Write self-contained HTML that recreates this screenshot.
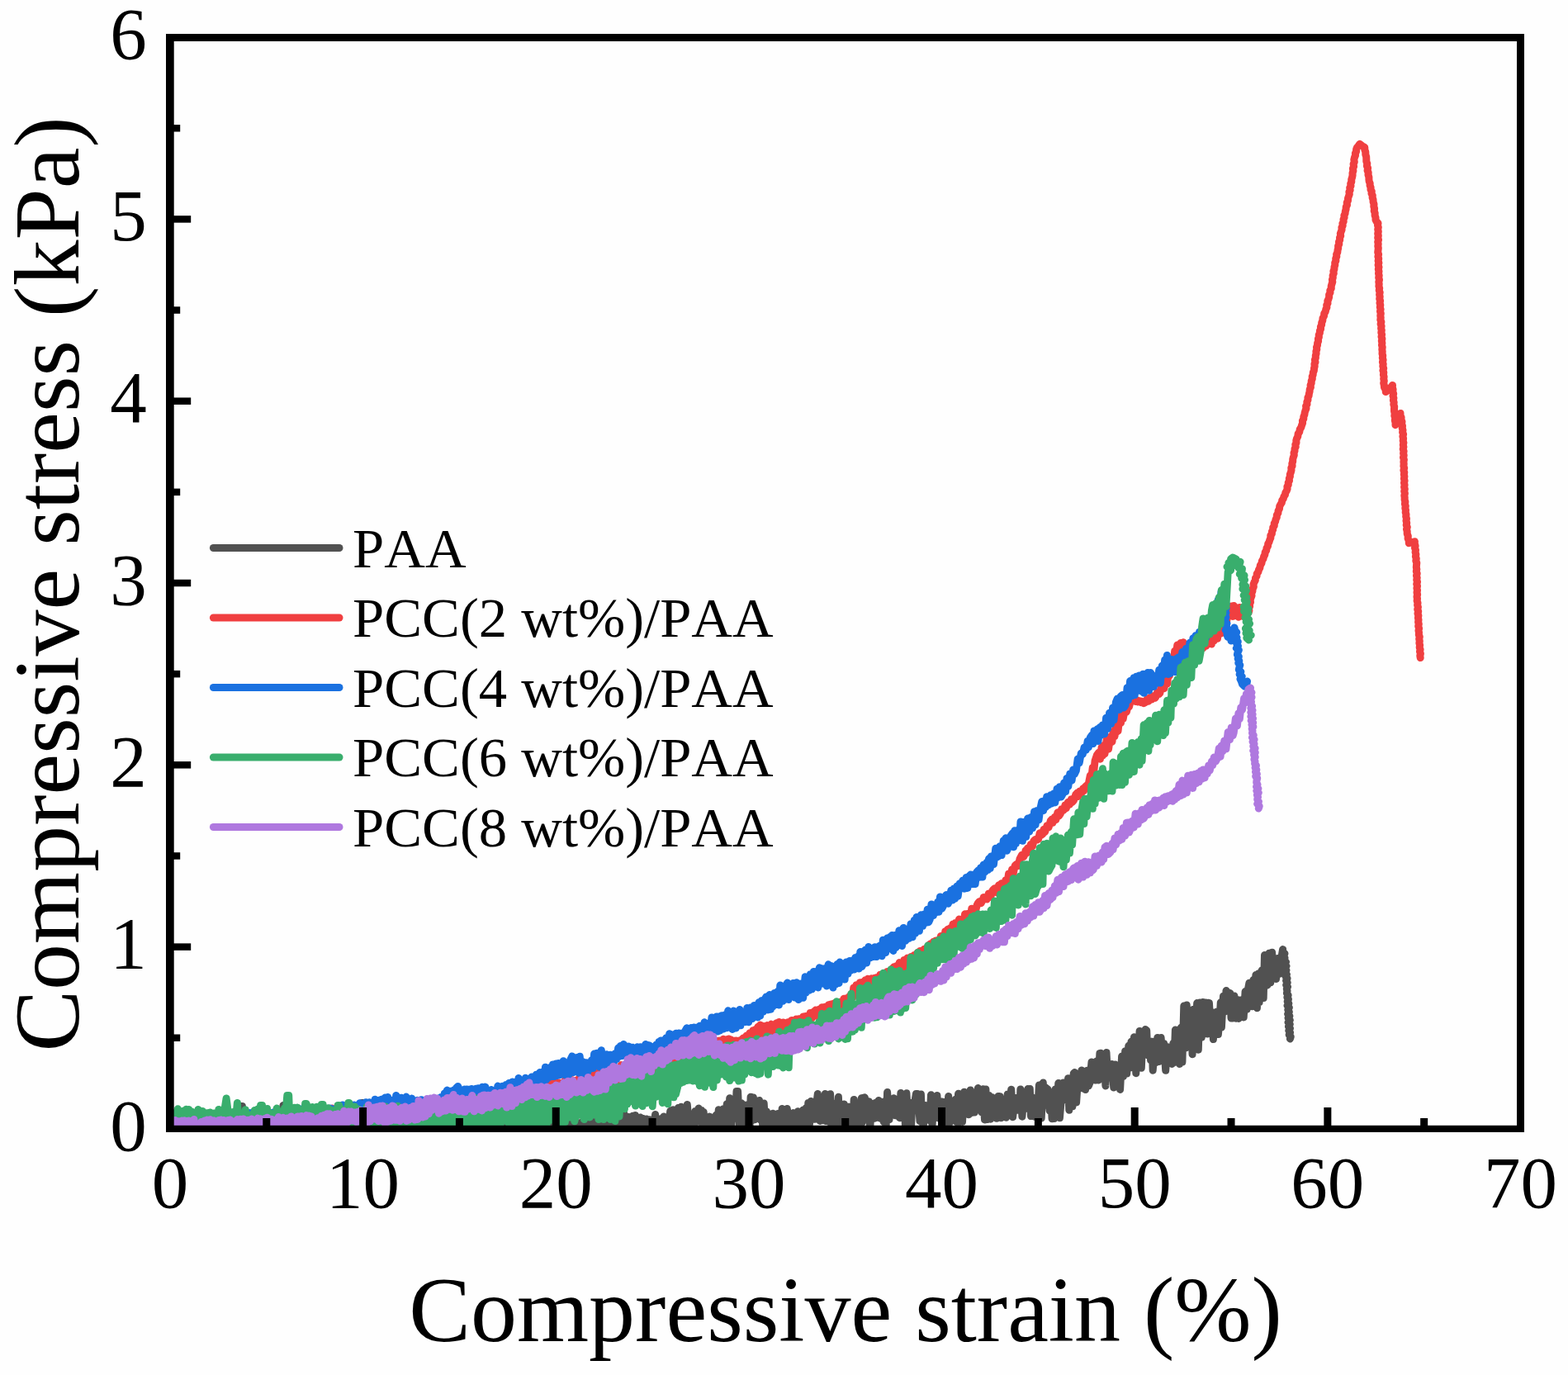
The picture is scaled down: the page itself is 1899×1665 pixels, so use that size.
<!DOCTYPE html>
<html><head><meta charset="utf-8"><title>Compressive stress-strain</title>
<style>html,body{margin:0;padding:0;background:#fefefe;}body{width:1899px;height:1665px;overflow:hidden}svg{display:block}</style>
</head><body>
<svg width="1899" height="1665" viewBox="0 0 1899 1665" font-family="'Liberation Serif', 'Times New Roman', serif">
<rect width="1899" height="1665" fill="#fefefe"/>
<defs><clipPath id="pc"><rect x="201" y="41" width="1645" height="1330"/></clipPath></defs>
<g clip-path="url(#pc)" fill="none" stroke-width="9.0" stroke-linejoin="round" stroke-linecap="round">
<path stroke="#515151" d="M210.0,1359.3 211.3,1363.9 212.8,1362.9 214.7,1357.6 216.2,1367.5 217.3,1358.3 219.1,1362.4 220.3,1358.5 222.5,1362.8 224.0,1366.5 226.0,1358.5 227.6,1351.5 229.5,1351.5 231.8,1358.4 233.1,1362.5 234.5,1355.3 235.5,1367.2 237.2,1363.8 238.7,1358.8 240.1,1348.5 241.3,1348.5 243.2,1363.0 245.0,1357.8 247.4,1363.2 249.6,1358.3 250.8,1354.1 252.6,1364.1 253.6,1358.1 255.1,1358.1 257.1,1364.2 259.5,1358.2 260.9,1363.4 261.9,1354.9 263.0,1364.2 264.2,1359.0 266.1,1363.7 268.0,1354.0 270.4,1364.0 272.7,1358.2 273.9,1353.9 275.8,1364.1 277.7,1358.6 279.5,1363.1 280.8,1363.2 282.1,1358.2 284.0,1363.3 285.5,1358.0 287.1,1367.5 288.8,1353.8 290.4,1359.1 292.0,1339.5 293.4,1339.5 295.7,1363.5 297.7,1358.7 298.9,1363.1 300.7,1359.1 302.8,1364.1 304.8,1358.3 306.4,1363.7 308.2,1363.6 309.4,1358.0 311.5,1363.1 313.9,1359.1 315.8,1363.7 316.9,1354.3 318.6,1367.5 320.5,1357.3 322.3,1364.1 324.1,1358.4 325.7,1363.3 327.1,1359.2 329.3,1359.4 331.1,1364.8 333.0,1358.0 334.8,1367.5 335.9,1363.2 337.2,1359.5 338.6,1363.7 339.8,1363.7 341.2,1357.4 343.0,1338.5 344.9,1357.3 346.2,1363.8 347.6,1358.3 349.4,1367.5 350.8,1357.3 352.3,1363.7 353.7,1353.9 355.1,1367.5 356.4,1367.5 357.8,1357.9 359.2,1357.9 360.4,1363.6 362.0,1357.1 363.4,1366.8 364.9,1358.1 366.4,1363.5 367.7,1367.5 369.5,1357.8 371.8,1363.6 373.9,1362.2 375.0,1357.1 376.9,1367.5 378.3,1358.5 380.2,1367.0 381.8,1358.1 383.2,1367.5 385.3,1353.5 386.7,1363.6 388.5,1367.5 390.2,1357.5 392.5,1363.8 394.6,1357.8 395.7,1362.7 397.1,1363.2 399.0,1353.4 401.4,1366.7 403.8,1356.9 405.3,1367.5 407.0,1357.2 409.0,1361.6 410.1,1357.5 411.8,1367.5 412.9,1352.9 415.2,1362.4 417.1,1357.3 418.2,1363.9 420.1,1358.3 422.3,1367.5 423.6,1352.6 425.3,1362.2 427.0,1352.6 428.5,1362.0 430.0,1356.6 431.2,1362.0 433.3,1362.5 434.8,1357.1 436.2,1363.8 437.3,1352.7 438.6,1335.5 440.1,1335.5 441.7,1362.3 444.0,1357.9 445.3,1367.0 447.1,1357.8 449.1,1357.6 451.0,1356.3 452.9,1362.4 454.4,1352.5 455.6,1362.4 456.9,1356.8 458.3,1367.5 459.6,1352.7 460.6,1361.1 462.8,1352.5 464.5,1356.2 465.6,1362.0 467.4,1362.6 469.5,1352.5 471.7,1356.7 473.6,1356.8 475.8,1366.8 477.6,1356.3 478.8,1363.0 480.9,1357.0 482.8,1356.6 484.3,1363.2 485.5,1356.5 487.4,1367.1 488.7,1357.4 490.8,1367.5 492.6,1357.3 493.7,1362.3 496.0,1352.5 497.0,1367.5 498.4,1356.2 500.0,1366.8 501.0,1355.6 502.6,1361.8 503.8,1355.9 505.6,1362.5 507.7,1357.4 508.9,1363.0 510.6,1358.0 512.1,1362.7 513.5,1362.4 515.5,1356.7 516.6,1362.5 518.4,1363.2 520.7,1358.0 522.7,1364.2 524.2,1357.9 526.3,1362.7 528.5,1357.5 530.6,1352.5 532.9,1367.5 534.1,1366.6 535.6,1363.1 536.9,1363.6 538.3,1352.5 540.6,1362.3 541.7,1352.5 543.0,1367.5 545.4,1361.4 547.1,1352.5 549.3,1367.5 551.2,1352.5 552.5,1363.6 553.7,1355.9 555.3,1367.5 557.3,1362.4 558.5,1353.5 560.1,1363.4 562.4,1357.5 563.7,1363.0 565.9,1361.6 567.6,1362.7 568.7,1358.0 569.8,1367.2 572.0,1356.6 574.2,1363.2 576.1,1357.8 577.9,1362.3 579.7,1357.7 581.5,1364.0 583.0,1352.5 584.4,1367.5 586.7,1356.0 588.0,1362.2 589.6,1352.7 590.7,1363.3 592.8,1356.7 594.0,1363.8 595.6,1357.8 597.5,1363.6 599.3,1356.8 601.6,1356.9 603.8,1364.3 605.9,1357.8 607.9,1362.1 610.2,1357.0 611.5,1363.1 612.9,1353.1 614.3,1361.9 616.7,1362.4 618.7,1352.5 621.0,1362.5 622.6,1356.1 623.9,1367.5 625.2,1363.6 626.3,1356.3 627.3,1356.0 628.7,1361.4 630.0,1355.5 631.6,1363.4 633.7,1367.5 635.1,1353.3 636.9,1361.9 638.1,1352.5 639.2,1356.3 641.6,1356.9 643.0,1363.9 644.6,1357.2 646.0,1367.0 647.2,1367.5 648.4,1363.5 650.3,1359.0 651.8,1363.9 653.5,1356.8 655.3,1353.0 656.8,1362.8 659.0,1356.9 661.3,1367.5 663.2,1357.4 664.8,1367.5 665.9,1353.8 667.1,1363.0 669.4,1356.9 670.7,1362.5 673.0,1357.9 674.3,1366.7 675.9,1353.7 677.6,1362.9 679.3,1358.5 681.6,1363.2 683.9,1354.0 685.5,1364.0 687.7,1358.3 688.9,1367.5 691.0,1359.0 692.3,1367.1 694.0,1357.8 695.8,1363.1 697.7,1367.5 699.5,1363.3 700.9,1359.7 702.8,1363.1 704.6,1358.8 706.9,1366.9 708.6,1363.2 709.7,1362.5 711.1,1354.9 713.4,1367.2 714.9,1354.2 717.2,1362.9 719.2,1361.9 720.7,1358.4 722.9,1367.0 725.0,1353.2 727.1,1354.1 728.5,1357.9 730.0,1367.4 731.4,1353.1 733.0,1363.8 734.2,1352.8 736.1,1367.5 737.3,1359.0 739.2,1367.5 741.0,1347.5 742.6,1347.5 743.7,1355.9 745.1,1362.7 746.6,1356.3 747.7,1366.8 749.7,1354.6 751.7,1356.0 753.7,1356.2 754.8,1362.2 755.9,1348.8 758.0,1367.5 759.7,1361.1 761.1,1352.5 762.1,1360.3 764.2,1361.8 766.0,1351.3 767.2,1367.5 769.4,1350.4 771.4,1361.2 773.7,1361.5 775.6,1352.9 777.5,1360.7 779.0,1354.4 780.9,1362.6 782.9,1354.9 785.0,1361.9 786.8,1355.8 788.4,1356.6 789.9,1356.4 792.1,1363.9 793.6,1349.5 794.6,1360.6 796.8,1354.6 799.2,1360.4 801.3,1354.3 802.8,1362.8 803.9,1352.0 806.0,1367.5 808.0,1354.8 809.6,1361.5 811.8,1345.2 813.1,1344.7 815.4,1343.8 817.6,1367.5 818.8,1351.1 820.3,1363.3 821.3,1341.6 823.7,1359.6 824.8,1340.3 826.4,1359.6 828.0,1348.6 830.1,1362.8 832.3,1337.5 834.3,1361.6 835.5,1349.3 836.5,1367.5 838.9,1360.5 840.4,1367.5 841.9,1345.4 843.0,1359.1 844.4,1346.6 846.1,1342.0 848.5,1358.9 849.6,1344.6 851.1,1361.1 852.2,1346.8 853.2,1361.8 855.3,1353.3 856.6,1355.5 857.7,1367.5 859.4,1352.1 861.4,1359.9 863.3,1352.9 865.2,1361.4 867.3,1350.1 868.7,1361.4 870.3,1343.8 871.4,1355.7 873.6,1356.2 876.0,1342.7 877.2,1367.5 878.7,1352.7 880.3,1336.7 882.5,1367.5 883.7,1329.8 885.5,1367.5 887.4,1334.7 889.4,1334.5 890.7,1354.3 892.0,1321.5 893.6,1321.5 895.6,1367.5 897.9,1335.8 900.0,1337.8 902.2,1367.5 904.3,1338.1 905.5,1354.0 907.0,1341.8 908.0,1367.5 909.1,1328.2 910.8,1356.8 912.4,1328.9 914.0,1355.8 916.3,1335.9 917.8,1338.2 919.5,1332.4 920.9,1356.1 922.4,1342.4 924.0,1367.5 925.2,1336.1 927.0,1367.5 928.4,1346.1 929.8,1359.0 931.8,1349.0 933.9,1350.9 934.9,1359.1 936.1,1348.3 937.8,1361.1 939.9,1360.7 942.0,1348.5 943.0,1358.6 944.4,1350.3 945.7,1360.2 947.2,1342.5 948.5,1367.5 950.7,1348.0 952.0,1361.8 953.2,1342.5 954.8,1350.0 956.8,1348.2 958.5,1361.1 960.8,1347.6 962.8,1367.5 964.4,1359.5 966.2,1345.8 967.2,1359.7 968.5,1347.5 970.4,1356.2 972.7,1344.0 974.2,1361.3 976.3,1341.6 977.7,1367.5 978.8,1335.4 980.5,1361.1 982.0,1333.5 983.8,1355.6 985.7,1337.3 986.8,1355.3 988.4,1339.7 990.3,1324.5 991.6,1334.6 993.1,1357.4 994.6,1338.2 997.0,1356.7 999.3,1324.5 1000.6,1357.6 1002.4,1341.7 1003.7,1358.4 1005.6,1324.7 1007.4,1367.5 1009.2,1336.3 1010.3,1356.7 1011.4,1337.3 1013.3,1360.7 1015.4,1328.3 1017.2,1367.5 1018.6,1342.9 1020.6,1354.5 1022.2,1337.0 1023.5,1359.4 1025.7,1340.0 1026.9,1362.3 1028.3,1340.3 1030.7,1344.1 1032.9,1361.4 1034.2,1331.4 1035.2,1358.7 1036.9,1346.0 1038.2,1361.5 1039.6,1345.4 1042.0,1367.5 1043.3,1329.7 1044.4,1359.1 1046.2,1329.1 1047.3,1328.8 1049.3,1339.2 1050.5,1353.9 1052.3,1333.7 1053.7,1367.5 1055.3,1339.8 1056.7,1337.1 1058.6,1354.4 1059.9,1335.6 1061.8,1353.4 1064.1,1332.4 1065.7,1354.2 1068.1,1334.4 1070.3,1358.5 1071.3,1333.8 1073.0,1367.5 1074.6,1322.5 1077.0,1355.7 1078.5,1332.0 1080.3,1348.8 1082.4,1329.7 1084.1,1350.8 1086.0,1332.4 1087.8,1332.3 1089.5,1353.7 1090.9,1323.4 1092.9,1352.7 1095.2,1336.2 1096.6,1366.3 1097.9,1323.8 1099.9,1354.8 1101.5,1335.1 1103.4,1365.9 1105.0,1335.8 1107.2,1338.5 1109.4,1324.5 1111.1,1324.5 1112.7,1340.0 1114.0,1357.6 1115.4,1324.9 1116.5,1354.4 1118.2,1364.3 1120.4,1338.4 1122.5,1354.8 1124.1,1338.7 1126.1,1357.1 1127.5,1325.8 1129.0,1362.6 1131.0,1337.2 1132.6,1350.0 1134.9,1326.4 1136.8,1354.1 1138.5,1352.9 1140.5,1333.9 1142.8,1348.5 1143.9,1360.4 1145.2,1334.3 1147.0,1349.8 1148.7,1327.4 1150.3,1359.5 1152.5,1348.1 1154.0,1335.0 1155.2,1353.3 1157.2,1331.2 1158.7,1358.9 1160.6,1324.3 1162.5,1358.7 1164.1,1335.1 1165.5,1358.5 1167.7,1322.2 1170.1,1347.5 1172.0,1327.3 1173.2,1349.8 1175.2,1319.9 1176.6,1347.5 1179.0,1330.9 1180.3,1347.1 1182.4,1327.7 1184.5,1317.5 1186.8,1328.3 1189.0,1347.0 1190.5,1318.8 1192.5,1356.0 1193.9,1318.9 1194.9,1342.9 1196.2,1355.6 1197.8,1326.5 1199.5,1355.2 1201.5,1328.7 1203.4,1345.9 1205.6,1331.6 1206.9,1354.3 1208.9,1327.4 1210.1,1346.1 1211.1,1327.8 1212.3,1353.7 1214.7,1345.2 1216.4,1341.1 1218.5,1353.3 1220.2,1324.9 1222.3,1342.3 1224.7,1319.2 1226.6,1352.8 1227.7,1343.7 1229.7,1329.4 1231.9,1344.2 1233.4,1331.1 1234.9,1344.3 1235.9,1318.9 1237.9,1352.2 1239.9,1328.4 1241.8,1342.5 1243.6,1339.7 1244.8,1318.6 1246.2,1341.5 1247.3,1318.6 1248.5,1351.6 1250.0,1328.7 1251.1,1341.1 1253.1,1352.2 1254.9,1341.2 1256.8,1344.1 1258.4,1313.9 1259.6,1323.2 1261.2,1354.0 1263.3,1311.1 1264.6,1338.3 1266.9,1317.3 1269.1,1319.2 1271.1,1345.0 1272.5,1324.3 1274.1,1354.8 1275.3,1322.8 1276.6,1354.5 1278.1,1318.9 1280.1,1342.8 1281.8,1311.6 1283.4,1353.8 1285.8,1325.4 1287.8,1310.9 1290.1,1315.0 1292.3,1332.6 1293.6,1305.7 1294.8,1344.2 1296.8,1307.3 1298.9,1339.8 1300.2,1299.9 1301.6,1298.6 1303.6,1334.9 1305.7,1304.8 1307.6,1316.9 1309.9,1296.0 1311.1,1318.0 1312.6,1300.3 1314.5,1319.5 1316.6,1296.2 1318.4,1314.9 1319.7,1311.8 1322.0,1285.9 1323.6,1307.8 1324.9,1306.5 1326.4,1308.1 1327.9,1285.1 1330.3,1308.1 1331.9,1275.4 1333.4,1275.2 1335.7,1301.5 1337.4,1282.6 1338.9,1314.9 1340.0,1274.5 1341.6,1305.1 1343.2,1289.0 1344.3,1305.1 1346.5,1288.4 1348.8,1317.1 1350.5,1289.0 1352.5,1309.9 1354.7,1292.6 1356.6,1319.4 1358.6,1279.0 1360.4,1303.5 1362.7,1272.7 1364.7,1300.1 1366.8,1266.3 1368.5,1293.0 1370.0,1261.3 1371.2,1275.9 1373.5,1255.8 1375.8,1299.7 1376.9,1267.1 1378.0,1287.0 1380.1,1248.4 1382.3,1293.2 1384.0,1254.4 1386.0,1275.3 1387.1,1246.5 1388.7,1247.6 1389.9,1277.8 1392.1,1260.7 1393.6,1283.9 1395.1,1261.2 1396.2,1296.2 1398.5,1269.7 1399.8,1286.8 1401.8,1256.4 1403.8,1285.4 1406.1,1256.5 1408.1,1282.1 1409.6,1263.4 1411.7,1296.3 1413.8,1267.8 1415.4,1286.7 1417.5,1269.4 1419.1,1288.4 1420.9,1263.1 1422.0,1286.5 1423.4,1247.0 1425.1,1278.4 1427.1,1254.6 1428.5,1288.4 1430.3,1244.2 1431.9,1286.0 1433.8,1218.1 1435.7,1269.1 1437.2,1216.9 1439.5,1264.5 1440.7,1259.0 1442.0,1227.4 1444.1,1276.7 1445.2,1222.3 1447.4,1248.9 1449.7,1214.6 1451.3,1271.2 1453.1,1214.0 1455.3,1256.2 1456.7,1213.6 1458.5,1245.6 1459.9,1213.9 1462.1,1252.1 1463.3,1214.3 1464.4,1214.4 1466.6,1249.8 1468.3,1225.7 1469.4,1258.6 1471.1,1226.3 1472.5,1251.6 1473.9,1224.9 1475.4,1252.6 1477.2,1233.6 1478.3,1213.8 1479.4,1244.1 1481.5,1206.2 1483.4,1225.0 1485.0,1199.6 1486.8,1207.0 1487.9,1201.9 1489.9,1202.7 1491.0,1232.9 1492.0,1206.7 1493.1,1233.0 1494.9,1206.0 1497.1,1233.3 1498.3,1210.5 1500.0,1233.4 1502.2,1211.0 1504.5,1224.1 1506.2,1231.9 1508.1,1200.6 1510.1,1222.3 1511.6,1197.4 1512.9,1190.2 1514.1,1191.8 1515.3,1192.1 1516.5,1218.8 1517.9,1186.6 1519.4,1215.0 1520.9,1180.5 1522.4,1220.7 1523.8,1179.1 1525.2,1213.5 1526.6,1178.0 1528.3,1174.9 1530.2,1208.6 1531.5,1156.5 1533.8,1192.2 1535.1,1192.9 1537.0,1154.2 1538.8,1189.7 1540.6,1153.2 1542.4,1184.5 1543.9,1166.5 1545.5,1185.5 1547.3,1160.5 1549.7,1179.3 1551.4,1162.3 1553.6,1149.6 1553.4,1152.4 1555.9,1154.6 1554.6,1157.6 1556.0,1160.0 1555.1,1162.6 1557.4,1164.9 1555.6,1167.6 1557.9,1169.9 1555.9,1172.6 1557.9,1174.9 1556.4,1177.6 1558.4,1179.9 1557.1,1182.5 1559.0,1184.9 1557.6,1187.5 1559.2,1189.9 1557.7,1192.6 1559.5,1194.9 1558.3,1197.5 1559.0,1200.0 1558.4,1202.6 1560.1,1205.0 1558.9,1207.6 1560.4,1210.0 1559.2,1212.6 1560.8,1215.1 1559.1,1217.7 1561.3,1220.1 1559.8,1222.7 1561.3,1225.2 1559.7,1227.8 1561.8,1230.2 1560.1,1232.8 1562.2,1235.2 1560.1,1237.9 1562.2,1240.3 1560.5,1242.9 1562.4,1245.3 1560.8,1248.0 1562.5,1250.4 1561.2,1253.0 1563.2,1255.4 1562.4,1258.0"/>
<path stroke="#f03f40" d="M210.0,1353.5 212.1,1363.3 214.0,1362.0 215.2,1354.1 216.7,1363.1 218.3,1363.4 220.1,1354.9 222.4,1361.9 223.6,1352.9 225.5,1363.5 227.1,1352.9 228.7,1363.4 230.0,1353.9 232.0,1363.2 233.3,1353.1 234.9,1363.8 236.0,1355.4 238.4,1362.8 240.0,1353.3 241.7,1364.0 243.7,1352.7 245.3,1352.5 247.5,1353.3 248.5,1363.4 250.7,1354.0 252.4,1362.0 254.5,1352.5 256.8,1362.9 259.1,1351.6 260.4,1351.6 262.4,1362.5 263.5,1352.3 264.8,1362.6 265.9,1352.6 267.4,1360.8 268.4,1352.4 270.6,1361.4 272.0,1353.3 274.1,1363.4 275.9,1352.4 277.1,1363.4 278.6,1352.0 280.0,1362.2 281.9,1352.6 283.3,1362.7 285.1,1353.6 287.4,1361.3 289.6,1352.5 291.0,1359.9 292.6,1350.3 294.3,1362.0 295.7,1351.2 297.2,1351.9 299.5,1361.8 300.6,1361.5 301.8,1350.7 303.7,1360.6 304.8,1350.7 306.2,1360.7 308.3,1362.2 310.6,1350.0 312.1,1361.7 313.4,1351.1 315.6,1361.4 317.5,1349.5 319.2,1362.3 320.7,1351.6 322.2,1360.5 323.6,1349.4 325.7,1362.1 327.3,1349.6 328.6,1360.4 330.8,1347.4 332.9,1350.8 335.1,1348.3 337.4,1350.2 338.7,1359.0 340.9,1350.1 343.0,1347.0 344.6,1360.4 346.1,1349.7 347.8,1357.5 349.7,1348.3 350.9,1347.0 352.6,1358.8 354.9,1346.6 356.6,1358.2 358.1,1346.1 360.4,1358.0 362.7,1347.2 365.0,1355.7 366.1,1346.8 368.3,1355.1 369.6,1347.3 371.1,1356.9 373.3,1345.6 374.5,1353.7 375.7,1343.6 377.1,1356.0 378.4,1344.3 379.8,1355.1 381.9,1344.7 383.7,1355.5 385.0,1345.1 387.0,1354.6 389.3,1347.2 391.1,1355.4 392.4,1345.5 394.1,1355.6 396.1,1353.3 397.4,1343.6 399.2,1352.3 401.1,1352.3 402.4,1342.0 403.7,1344.0 405.7,1352.1 407.5,1344.0 409.1,1353.6 410.7,1344.2 412.8,1350.9 415.0,1350.9 416.6,1343.5 418.6,1341.6 419.7,1352.0 421.9,1342.2 422.9,1351.0 425.3,1351.1 427.7,1350.5 429.5,1342.0 431.7,1350.8 433.7,1340.7 434.8,1348.3 436.8,1339.6 439.1,1347.8 441.1,1339.6 442.5,1340.3 444.1,1349.4 446.3,1340.7 448.4,1347.5 449.7,1347.7 451.8,1338.9 453.3,1348.6 454.3,1340.4 456.6,1346.3 458.4,1338.4 460.4,1347.6 461.7,1340.0 463.4,1339.4 465.7,1340.0 466.9,1348.3 469.3,1346.1 471.1,1338.3 473.1,1346.2 475.1,1340.0 477.1,1345.8 478.4,1346.7 480.3,1338.6 481.6,1338.4 482.8,1345.7 484.2,1346.1 486.5,1337.5 488.8,1345.4 490.5,1338.6 492.3,1346.2 493.6,1337.6 495.0,1345.1 496.9,1338.1 498.3,1346.7 500.4,1337.6 502.5,1344.2 504.1,1336.1 505.7,1337.5 507.0,1336.3 508.3,1343.4 510.4,1334.9 511.8,1345.0 512.9,1335.7 515.0,1344.4 517.1,1333.7 519.3,1342.0 521.3,1343.5 522.5,1335.3 524.2,1342.5 525.8,1343.0 527.5,1333.9 529.5,1332.8 531.5,1342.3 533.4,1343.2 535.7,1331.5 537.9,1340.4 539.9,1341.0 541.5,1331.4 543.7,1340.6 546.0,1332.0 548.0,1340.6 549.1,1330.1 551.0,1329.4 552.7,1339.3 554.0,1329.4 555.6,1338.8 557.7,1326.9 559.6,1337.8 561.2,1340.9 563.1,1326.6 565.2,1337.8 566.8,1325.5 569.0,1326.8 570.7,1327.9 571.9,1338.5 574.1,1324.3 576.2,1336.7 578.2,1327.0 580.3,1338.1 582.4,1325.1 583.5,1334.8 584.9,1325.8 586.9,1335.3 588.0,1334.3 590.0,1322.0 591.4,1333.6 593.7,1335.8 595.4,1323.5 597.8,1334.5 599.2,1321.5 601.5,1332.7 603.0,1322.4 604.1,1332.9 605.8,1320.8 607.4,1321.5 608.9,1334.0 610.1,1323.0 612.3,1334.1 613.6,1319.9 615.2,1320.1 616.8,1332.8 617.9,1319.6 619.8,1331.8 621.1,1320.9 622.6,1331.4 624.4,1318.5 626.0,1332.2 627.7,1318.7 630.1,1332.4 631.7,1319.3 634.1,1329.1 636.2,1319.8 638.1,1329.5 639.3,1318.1 640.9,1329.7 642.9,1317.6 644.8,1331.7 646.0,1318.7 647.6,1328.1 649.3,1317.3 650.3,1330.7 652.0,1316.2 654.3,1329.3 655.5,1315.0 657.0,1327.3 658.4,1312.3 660.1,1325.8 662.1,1313.3 664.0,1325.9 665.2,1312.3 667.2,1324.9 669.1,1312.3 671.4,1326.5 673.3,1311.1 674.4,1310.7 676.4,1323.3 677.9,1311.1 679.0,1326.1 681.0,1312.0 682.8,1323.5 684.4,1307.7 686.2,1324.3 687.8,1306.4 689.9,1323.8 692.3,1307.5 693.8,1321.5 695.8,1324.1 698.0,1308.2 699.5,1323.6 701.8,1304.4 703.7,1305.6 705.1,1319.2 706.3,1304.7 707.4,1321.5 708.9,1303.4 710.4,1319.5 712.3,1300.8 714.1,1315.1 716.0,1299.3 717.9,1314.7 719.8,1299.4 722.1,1316.4 723.8,1298.2 724.9,1314.7 726.2,1299.9 727.5,1298.4 729.5,1314.4 730.9,1315.0 733.3,1295.5 735.3,1313.0 737.5,1296.8 739.1,1307.9 740.9,1292.9 742.7,1308.0 744.9,1293.2 746.3,1309.9 748.1,1293.3 750.0,1305.5 752.3,1289.6 754.3,1306.1 756.4,1304.0 758.5,1305.1 760.1,1288.8 762.1,1304.2 763.9,1287.1 765.4,1302.7 767.1,1301.9 769.5,1287.4 771.5,1303.0 773.2,1288.6 775.4,1300.2 776.8,1285.3 778.1,1284.4 780.3,1300.9 782.6,1301.7 784.8,1281.6 786.3,1299.2 788.5,1281.2 790.2,1294.5 792.6,1283.1 794.8,1298.0 796.9,1280.2 798.1,1280.3 799.5,1296.6 800.8,1275.5 802.3,1295.2 803.6,1277.1 805.3,1275.5 807.0,1291.8 808.8,1295.1 810.1,1276.6 812.5,1291.8 814.2,1275.3 815.9,1293.3 817.2,1272.3 818.5,1290.4 820.7,1273.7 822.7,1288.1 824.9,1271.6 826.0,1289.7 827.2,1269.4 829.3,1290.4 831.4,1272.4 832.7,1284.8 834.7,1270.1 835.8,1268.2 837.4,1285.9 838.8,1267.4 841.1,1286.4 842.2,1267.5 844.5,1282.4 846.2,1265.3 847.3,1283.8 849.7,1266.5 850.8,1284.1 852.4,1265.2 853.5,1281.6 855.5,1262.3 856.7,1263.1 858.0,1279.0 860.1,1264.7 861.5,1264.1 863.8,1273.8 865.3,1262.6 867.3,1275.2 868.3,1272.7 870.0,1260.2 871.0,1274.7 872.5,1260.0 873.9,1271.2 875.9,1258.3 877.6,1269.1 879.5,1258.8 880.6,1266.6 882.4,1257.9 883.7,1266.6 884.8,1258.8 886.8,1266.2 888.5,1260.2 889.7,1265.5 891.7,1260.0 893.3,1260.4 894.6,1263.9 896.8,1259.4 898.4,1262.1 899.8,1257.1 901.8,1260.5 904.1,1254.1 905.9,1258.9 907.9,1250.8 909.0,1258.8 910.2,1256.9 911.9,1247.8 913.8,1256.6 915.3,1246.3 916.6,1254.2 918.0,1243.2 919.1,1254.1 920.8,1241.1 922.7,1242.3 924.6,1242.5 926.0,1252.9 927.6,1243.6 928.9,1241.6 930.3,1250.7 932.0,1250.9 934.0,1240.1 936.0,1250.5 938.3,1249.5 939.3,1239.6 940.4,1238.8 942.5,1246.0 943.6,1237.4 945.9,1246.4 947.1,1239.0 948.5,1237.9 949.8,1244.6 951.5,1244.8 952.6,1243.9 953.7,1237.9 955.2,1237.6 956.5,1242.8 958.7,1235.4 960.3,1242.6 962.3,1241.9 964.1,1234.1 966.3,1241.1 967.4,1233.7 968.5,1240.6 970.4,1238.1 972.7,1231.0 974.1,1236.5 975.6,1230.4 977.4,1235.9 979.1,1236.0 981.2,1226.4 982.3,1226.8 983.5,1233.0 984.9,1225.5 986.3,1224.6 987.8,1223.1 989.6,1230.4 991.7,1222.3 993.0,1230.5 995.3,1219.7 997.5,1228.8 999.0,1219.3 1001.3,1228.3 1003.5,1216.8 1004.6,1225.7 1006.3,1216.0 1007.8,1224.7 1010.0,1214.9 1012.2,1224.4 1013.2,1214.9 1015.6,1221.3 1017.9,1213.1 1020.0,1221.9 1021.9,1209.3 1023.6,1219.6 1025.1,1208.8 1026.5,1216.8 1028.6,1206.5 1029.8,1213.6 1030.9,1203.4 1032.6,1208.1 1033.8,1195.9 1035.4,1205.4 1037.1,1192.7 1039.4,1203.8 1041.5,1189.7 1043.2,1199.0 1045.2,1188.9 1046.3,1196.1 1047.8,1186.8 1049.1,1195.9 1050.8,1185.3 1053.0,1194.8 1055.4,1184.8 1057.5,1190.9 1059.3,1184.2 1060.4,1190.7 1062.1,1183.4 1064.1,1190.6 1065.9,1180.3 1067.6,1187.4 1069.7,1178.8 1071.5,1187.6 1072.9,1186.2 1074.5,1176.5 1076.2,1184.7 1077.3,1176.3 1079.0,1183.7 1080.6,1173.0 1082.8,1170.8 1083.9,1177.4 1085.8,1169.5 1088.0,1175.6 1089.3,1165.6 1090.4,1175.4 1092.1,1173.4 1093.6,1172.8 1094.9,1162.4 1096.7,1170.4 1098.9,1160.1 1101.0,1169.7 1103.0,1158.6 1104.9,1166.9 1107.1,1156.5 1109.3,1163.2 1111.3,1153.5 1112.7,1160.5 1114.2,1151.4 1115.5,1160.3 1117.2,1156.9 1119.1,1149.3 1120.1,1156.2 1122.1,1148.1 1123.7,1155.8 1125.3,1144.0 1126.9,1142.8 1128.8,1151.3 1130.6,1140.2 1131.9,1147.9 1133.3,1138.9 1135.3,1144.4 1137.3,1144.2 1139.4,1133.6 1141.6,1140.4 1143.0,1138.9 1144.8,1127.8 1146.3,1127.6 1148.0,1125.1 1149.3,1133.7 1150.5,1124.1 1151.6,1130.8 1154.0,1119.1 1155.2,1127.7 1157.0,1117.5 1159.1,1122.4 1161.5,1113.1 1163.5,1119.0 1165.6,1119.3 1167.0,1116.6 1168.6,1106.8 1170.4,1114.8 1171.5,1106.4 1173.2,1113.1 1175.3,1111.4 1176.8,1100.2 1178.2,1108.7 1179.6,1100.4 1181.0,1105.1 1183.3,1095.6 1184.6,1093.3 1186.4,1091.4 1188.1,1093.7 1190.1,1090.1 1191.2,1086.6 1193.5,1088.6 1195.1,1088.9 1197.3,1082.0 1198.6,1086.4 1200.1,1084.8 1202.2,1078.0 1204.5,1075.8 1206.3,1075.6 1207.5,1081.0 1209.6,1071.7 1211.4,1078.7 1212.7,1069.8 1214.0,1079.2 1215.1,1069.3 1216.4,1074.2 1217.9,1065.8 1219.9,1069.5 1221.6,1057.9 1223.3,1064.4 1225.6,1052.8 1227.2,1057.8 1229.3,1047.9 1230.8,1046.7 1233.2,1048.5 1235.1,1039.8 1237.5,1035.3 1239.6,1037.5 1240.8,1035.6 1242.1,1029.8 1243.4,1033.0 1244.4,1027.1 1246.6,1029.1 1248.3,1022.5 1250.5,1024.8 1251.8,1018.6 1253.7,1016.5 1256.0,1017.1 1257.6,1016.2 1259.2,1008.8 1260.8,1011.4 1262.9,1009.8 1264.1,1004.2 1265.6,1007.4 1268.0,999.8 1270.1,1001.9 1272.3,994.0 1273.9,992.1 1275.0,996.3 1277.4,989.2 1278.8,992.6 1280.9,983.8 1282.5,988.1 1284.4,985.2 1285.7,979.7 1288.0,981.3 1290.1,974.7 1291.3,978.8 1293.4,971.3 1295.4,974.3 1297.4,967.7 1298.6,971.4 1300.6,969.0 1302.8,962.0 1304.7,960.0 1305.9,964.4 1307.7,957.9 1309.5,960.9 1311.7,954.8 1312.8,957.5 1313.8,953.2 1316.1,951.0 1318.2,949.7 1320.3,939.0 1321.8,941.8 1323.3,929.4 1324.3,938.7 1326.1,921.1 1328.4,914.4 1330.6,911.2 1332.4,919.2 1334.1,905.1 1335.4,915.1 1336.7,902.4 1338.0,912.7 1340.2,895.7 1342.5,907.2 1344.8,892.0 1347.0,898.2 1348.1,885.4 1350.0,891.6 1351.8,878.2 1354.0,885.4 1355.9,868.2 1357.5,875.3 1358.8,862.1 1360.2,870.3 1362.5,858.2 1364.4,862.1 1366.4,853.4 1367.5,855.8 1369.3,848.6 1371.0,848.6 1373.3,847.2 1375.1,849.3 1377.3,847.9 1378.3,850.0 1380.0,848.8 1382.1,850.8 1383.1,849.2 1385.2,851.7 1387.1,850.6 1389.2,846.6 1390.9,849.3 1392.1,844.9 1393.1,844.6 1394.8,847.0 1397.0,842.6 1398.6,845.3 1399.6,844.4 1401.7,837.8 1403.8,840.4 1404.8,839.4 1406.5,831.4 1408.7,829.2 1409.9,833.7 1411.4,827.1 1413.6,828.1 1414.8,817.2 1416.3,818.3 1417.9,804.5 1418.9,810.5 1420.2,797.0 1421.5,799.8 1422.7,788.2 1424.3,791.9 1425.8,781.0 1428.1,789.4 1430.0,778.5 1432.0,784.9 1433.1,777.8 1435.3,785.7 1437.3,781.4 1438.7,786.2 1440.9,782.3 1442.8,786.8 1444.6,781.8 1446.6,786.4 1448.8,781.3 1450.7,785.3 1452.1,780.0 1454.3,783.7 1455.6,775.9 1457.1,784.6 1459.1,769.8 1460.6,782.4 1462.4,764.6 1463.7,763.4 1465.2,767.3 1467.4,780.0 1468.7,761.8 1470.2,775.8 1472.4,759.0 1474.5,773.3 1476.3,756.4 1478.1,767.2 1479.3,757.3 1480.7,766.2 1482.8,753.2 1484.9,758.5 1487.2,740.0 1489.4,745.3 1491.3,733.9 1493.1,746.4 1494.2,733.5 1496.4,745.4 1498.4,735.9 1499.9,747.2 1501.3,735.4 1502.8,745.1 1504.5,746.1 1506.6,738.3 1509.1,740.4 1512.0,742.0 1512.9,739.5 1512.4,736.8 1513.6,734.3 1513.3,731.6 1514.5,729.2 1514.1,726.5 1515.0,724.0 1516.0,721.4 1515.7,718.5 1516.9,715.9 1517.1,713.1 1518.3,710.5 1518.0,707.6 1519.0,705.0 1520.3,702.6 1520.5,699.9 1522.0,697.6 1522.2,694.8 1523.9,692.6 1524.5,690.0 1525.9,687.5 1526.3,684.6 1527.9,682.1 1528.4,679.3 1529.9,676.8 1530.6,674.0 1531.9,671.6 1532.2,668.8 1533.7,666.5 1534.0,663.7 1535.5,661.4 1535.7,658.6 1537.1,656.2 1537.8,653.6 1538.9,651.3 1538.8,648.5 1540.4,646.3 1540.4,643.7 1541.7,641.4 1541.7,638.7 1543.3,636.5 1543.2,633.8 1544.6,631.5 1545.0,629.0 1546.3,626.5 1546.3,623.7 1547.9,621.3 1548.1,618.4 1549.5,616.0 1549.7,613.2 1551.0,610.7 1552.4,608.5 1552.7,605.9 1554.3,603.8 1554.9,601.3 1556.4,599.2 1556.8,596.6 1558.2,594.4 1559.1,592.0 1558.9,589.3 1560.3,587.0 1560.2,584.4 1561.5,582.1 1561.3,579.4 1562.4,577.0 1562.3,574.4 1563.3,572.0 1564.0,569.4 1563.8,566.7 1565.1,564.2 1564.8,561.4 1565.7,558.8 1565.7,556.1 1566.4,553.5 1567.3,551.1 1567.0,548.4 1568.0,546.0 1568.0,543.5 1569.2,541.1 1568.8,538.4 1570.0,536.1 1569.8,533.4 1570.5,531.0 1571.8,528.4 1572.1,525.4 1573.8,522.9 1574.2,520.0 1575.8,517.5 1576.6,514.7 1577.6,512.3 1577.4,509.5 1578.8,507.2 1578.8,504.5 1579.9,502.1 1580.2,499.5 1581.0,497.0 1582.0,494.5 1581.6,491.8 1583.0,489.4 1582.8,486.7 1584.0,484.3 1583.9,481.6 1585.1,479.2 1585.4,476.6 1586.1,474.1 1586.2,471.4 1587.4,469.0 1587.1,466.3 1588.2,463.9 1588.2,461.3 1589.3,458.8 1589.2,456.1 1590.2,453.7 1590.3,451.1 1591.4,448.6 1591.5,446.0 1592.2,443.5 1591.9,440.9 1593.0,438.4 1592.4,435.7 1593.4,433.3 1593.3,430.7 1594.1,428.2 1593.9,425.6 1594.8,423.1 1594.5,420.4 1595.5,418.0 1595.6,415.4 1596.6,413.0 1596.4,410.4 1597.4,408.1 1597.2,405.5 1598.4,403.2 1598.4,400.6 1599.6,398.3 1599.4,395.7 1600.6,393.3 1600.7,390.8 1601.8,388.2 1602.0,385.2 1603.5,382.7 1603.7,379.8 1605.3,377.3 1605.8,374.5 1606.9,372.2 1606.7,369.5 1608.0,367.2 1607.8,364.5 1608.9,362.2 1609.7,359.6 1609.6,356.9 1611.0,354.4 1610.8,351.7 1612.3,349.2 1612.2,346.5 1613.0,343.9 1613.8,341.4 1613.4,338.7 1614.3,336.2 1614.1,333.6 1615.3,331.1 1614.9,328.5 1615.9,326.0 1616.0,323.4 1616.8,320.9 1616.7,318.2 1617.9,315.8 1617.7,313.1 1618.8,310.7 1618.6,308.0 1619.8,305.6 1620.0,303.0 1620.7,300.5 1620.6,297.9 1621.8,295.6 1621.5,292.9 1622.7,290.6 1622.5,287.9 1623.7,285.6 1623.3,282.9 1624.2,280.5 1625.1,278.1 1624.9,275.5 1626.2,273.2 1625.9,270.6 1627.2,268.3 1627.0,265.7 1628.1,263.4 1627.9,260.8 1629.1,258.5 1629.3,256.0 1630.1,253.4 1630.2,250.7 1631.5,248.2 1631.2,245.4 1632.5,242.9 1632.5,240.2 1633.4,237.6 1634.3,235.2 1633.9,232.5 1635.2,230.1 1634.7,227.5 1636.0,225.1 1635.7,222.5 1636.8,220.1 1636.7,217.4 1637.5,215.0 1638.1,212.3 1638.0,209.6 1638.9,206.9 1638.4,204.1 1639.6,201.5 1639.1,198.7 1640.3,196.1 1639.8,193.3 1640.5,190.6 1641.5,188.2 1641.4,185.6 1642.6,183.3 1642.6,180.7 1643.6,178.4 1645.3,176.5 1646.7,174.3 1649.6,176.6 1652.8,178.4 1652.8,181.3 1653.8,184.1 1653.8,187.0 1654.7,189.8 1654.8,192.7 1654.8,195.5 1655.8,198.1 1655.4,200.9 1656.6,203.5 1656.1,206.4 1657.2,209.0 1657.0,211.8 1657.9,214.4 1657.9,217.2 1658.2,219.7 1659.2,222.0 1659.1,224.6 1660.1,227.0 1660.0,229.5 1661.3,231.8 1661.0,234.4 1662.3,236.7 1662.1,239.3 1663.0,241.7 1663.1,244.5 1664.0,247.1 1663.8,249.9 1664.6,252.6 1664.2,255.4 1665.2,258.0 1665.1,260.8 1666.0,263.4 1666.0,266.2 1667.2,268.5 1669.0,270.3 1668.5,272.8 1669.3,275.3 1668.7,277.8 1669.3,280.4 1668.7,282.9 1669.3,285.4 1668.7,287.9 1669.5,290.4 1668.7,292.9 1669.2,295.5 1668.8,298.0 1669.3,300.5 1669.0,303.0 1668.7,305.6 1669.6,308.1 1668.9,310.7 1669.7,313.2 1669.1,315.8 1669.9,318.3 1669.1,320.9 1670.0,323.4 1669.3,326.0 1670.0,328.6 1669.5,331.1 1670.2,333.7 1669.7,336.2 1670.5,338.8 1669.8,341.4 1670.2,343.9 1669.9,346.5 1670.7,349.0 1670.2,351.6 1671.2,354.1 1670.6,356.7 1671.2,359.2 1670.7,361.8 1671.6,364.3 1671.0,366.9 1671.8,369.4 1671.3,372.0 1672.1,374.5 1671.5,377.1 1672.3,379.6 1671.8,382.2 1672.2,384.7 1671.8,387.3 1672.9,389.8 1672.1,392.4 1673.1,394.9 1672.6,397.5 1673.3,400.0 1672.8,402.6 1673.6,405.1 1673.0,407.7 1673.9,410.2 1673.3,412.8 1673.9,415.4 1673.5,417.9 1674.2,420.5 1673.8,423.1 1674.2,425.6 1674.0,428.2 1674.7,430.7 1674.3,433.3 1675.1,435.8 1674.4,438.4 1675.2,440.9 1674.8,443.5 1675.7,446.0 1674.9,448.6 1675.8,451.1 1675.4,453.7 1676.1,456.2 1675.7,458.8 1676.3,461.3 1675.7,463.9 1676.3,466.4 1676.5,469.2 1678.1,471.8 1678.3,474.6 1680.7,472.9 1682.2,470.3 1684.8,468.8 1686.5,466.4 1686.3,469.0 1687.1,471.6 1686.7,474.2 1687.7,476.8 1687.0,479.4 1687.9,482.0 1687.4,484.6 1688.2,487.2 1687.8,489.8 1688.7,492.4 1688.5,495.0 1688.5,497.8 1689.2,500.6 1688.8,503.5 1689.8,506.2 1689.3,509.1 1690.1,511.9 1690.0,514.7 1691.4,512.5 1691.6,509.8 1693.3,507.7 1693.7,505.0 1695.3,502.9 1696.0,500.4 1695.9,503.0 1697.1,505.5 1696.9,508.1 1698.0,510.5 1697.6,513.2 1698.5,515.7 1698.2,518.3 1699.0,520.8 1698.6,523.4 1699.6,525.9 1698.9,528.5 1699.6,531.0 1699.2,533.6 1699.9,536.1 1699.3,538.7 1699.9,541.2 1699.2,543.8 1700.1,546.4 1699.6,548.9 1700.2,551.5 1699.5,554.0 1700.4,556.6 1699.9,559.2 1700.2,561.7 1699.9,564.3 1700.7,566.8 1699.9,569.4 1700.8,571.9 1700.3,574.5 1700.9,577.0 1700.4,579.6 1701.1,582.1 1700.5,584.7 1701.1,587.2 1700.6,589.8 1701.3,592.3 1700.7,594.9 1701.4,597.4 1700.8,600.0 1701.2,602.5 1701.1,605.1 1701.9,607.6 1701.4,610.2 1702.3,612.7 1701.8,615.3 1702.5,617.8 1702.2,620.4 1703.0,622.9 1702.7,625.5 1703.5,628.0 1703.0,630.6 1703.7,633.2 1703.2,635.8 1704.3,638.3 1703.5,640.9 1704.2,643.4 1704.2,646.3 1705.3,649.1 1705.1,652.0 1706.3,654.8 1706.3,657.7 1709.9,657.0 1713.4,655.7 1713.2,658.3 1714.1,660.9 1713.5,663.5 1714.5,666.1 1714.1,668.7 1714.9,671.3 1714.4,673.9 1715.3,676.5 1714.8,679.1 1715.8,681.7 1715.5,684.3 1715.3,686.8 1715.8,689.4 1715.3,691.9 1716.2,694.5 1715.5,697.0 1716.2,699.6 1715.7,702.1 1716.5,704.6 1715.7,707.2 1716.5,709.7 1715.9,712.3 1716.5,714.8 1716.0,717.4 1716.6,719.9 1716.0,722.5 1716.5,725.0 1716.1,727.6 1717.0,730.1 1716.6,732.7 1717.4,735.2 1716.7,737.8 1717.7,740.4 1717.0,743.0 1717.9,745.5 1717.4,748.1 1718.0,750.6 1717.6,753.2 1718.3,755.7 1717.7,758.3 1718.6,760.9 1718.0,763.5 1718.5,766.0 1718.3,768.6 1719.3,771.1 1718.7,773.7 1719.3,776.2 1718.9,778.8 1719.6,781.3 1719.2,783.9 1720.1,786.4 1719.5,789.0 1720.4,791.5 1719.8,794.1 1720.2,796.6"/>
<path stroke="#1a71e0" d="M210.0,1350.8 212.1,1356.9 213.7,1351.2 214.9,1356.9 216.0,1351.4 218.0,1357.4 219.2,1350.0 220.9,1357.3 222.9,1356.4 224.1,1351.9 225.7,1357.5 227.0,1350.8 229.4,1357.9 231.3,1351.0 233.6,1358.8 235.7,1351.1 237.9,1352.8 239.8,1357.4 241.8,1357.6 243.3,1350.5 245.6,1356.9 247.7,1356.5 249.0,1350.0 251.1,1358.0 253.0,1349.7 254.2,1358.3 255.7,1357.5 257.3,1348.9 259.5,1356.4 261.4,1349.1 262.5,1357.2 263.8,1350.3 265.4,1359.3 267.5,1350.1 269.6,1357.5 271.9,1351.5 273.0,1359.5 274.5,1350.1 275.8,1358.7 277.1,1346.8 278.5,1348.9 280.2,1358.0 282.5,1350.1 283.6,1357.6 285.1,1348.8 286.8,1357.8 288.8,1348.3 290.6,1357.1 292.3,1349.1 294.3,1357.6 296.6,1350.2 298.9,1356.7 300.7,1350.1 302.1,1347.6 303.8,1359.9 304.9,1347.6 306.0,1357.9 307.8,1346.2 310.0,1357.7 312.1,1347.2 313.8,1356.3 315.2,1359.7 316.7,1349.1 318.1,1356.0 319.7,1345.0 320.9,1346.6 322.1,1356.1 323.5,1348.0 325.4,1355.1 326.8,1348.3 328.7,1356.9 330.1,1347.3 331.3,1355.2 332.7,1346.3 333.8,1356.6 335.4,1344.5 336.5,1354.5 338.6,1346.7 340.1,1355.3 341.7,1347.1 343.3,1358.7 345.2,1345.7 347.0,1345.7 348.7,1345.4 350.9,1354.5 351.9,1343.7 354.2,1343.1 355.8,1355.2 357.0,1343.0 358.2,1354.4 360.0,1355.6 361.5,1344.9 362.6,1355.4 363.8,1342.9 365.4,1355.7 367.8,1345.4 368.8,1346.1 370.2,1357.1 371.6,1345.8 373.5,1346.6 374.8,1347.0 377.1,1354.0 378.8,1345.8 380.8,1354.1 382.9,1346.1 384.8,1344.0 385.8,1354.4 388.1,1343.6 390.1,1354.2 391.6,1344.7 393.3,1353.8 394.6,1344.1 396.1,1352.1 397.4,1342.6 399.4,1341.9 400.7,1351.4 402.1,1342.7 403.7,1353.4 405.6,1349.9 407.8,1343.2 409.5,1351.1 411.8,1341.6 413.1,1353.7 414.7,1338.0 416.6,1348.1 417.8,1339.8 419.2,1348.2 420.5,1337.9 422.8,1350.5 424.1,1339.0 425.9,1339.2 427.2,1349.8 428.8,1338.0 431.0,1348.0 432.4,1339.4 434.6,1349.2 435.7,1335.7 437.4,1349.1 438.6,1337.7 440.7,1348.3 442.9,1334.7 444.6,1336.1 446.0,1348.7 447.4,1334.7 448.6,1346.4 450.3,1335.0 452.1,1346.8 454.2,1331.2 456.5,1343.8 458.8,1332.3 460.5,1345.6 462.0,1331.3 464.2,1344.4 466.4,1329.1 467.6,1342.6 469.6,1328.4 471.7,1343.1 473.1,1332.9 475.0,1341.4 477.0,1331.5 478.2,1340.9 479.7,1326.5 481.2,1339.7 483.2,1330.2 484.5,1341.3 485.7,1329.3 487.6,1340.7 488.7,1331.4 490.1,1332.0 492.0,1328.0 493.5,1340.6 494.8,1332.4 496.7,1338.9 498.7,1330.1 500.4,1343.5 502.4,1333.1 503.5,1341.1 505.5,1332.3 507.2,1340.7 509.5,1332.0 510.8,1331.7 511.8,1340.4 513.8,1333.2 515.5,1340.5 516.7,1333.2 518.5,1331.7 520.4,1331.4 521.6,1338.3 523.1,1332.0 524.7,1338.4 526.9,1330.8 528.5,1338.9 529.6,1330.2 530.9,1330.8 532.9,1338.7 534.0,1328.4 535.2,1336.3 536.3,1336.4 538.3,1323.9 540.0,1323.7 541.5,1320.1 543.6,1334.2 545.2,1321.3 547.1,1333.1 549.5,1319.9 550.6,1329.6 552.5,1317.5 554.6,1315.4 555.7,1317.7 557.7,1328.9 560.0,1320.4 561.5,1329.8 562.7,1319.1 564.1,1330.9 565.1,1318.9 566.2,1329.3 568.0,1319.3 569.5,1330.1 571.1,1318.4 573.2,1330.9 574.9,1319.9 576.3,1318.3 577.5,1327.9 579.1,1317.8 580.6,1331.8 582.2,1328.0 583.9,1316.3 585.2,1327.6 586.4,1328.8 587.8,1316.1 589.0,1329.1 590.3,1329.5 591.9,1321.0 593.4,1327.4 595.0,1319.4 597.2,1331.0 599.5,1320.5 601.4,1329.5 602.8,1315.1 604.5,1318.4 605.6,1327.4 606.8,1318.1 608.3,1315.3 610.5,1324.3 612.7,1313.4 614.9,1322.9 616.3,1311.5 618.5,1323.9 620.6,1309.9 622.6,1324.0 624.8,1310.0 626.6,1319.8 628.0,1305.6 629.5,1319.8 630.7,1308.5 633.0,1321.2 635.2,1318.4 636.4,1305.3 637.8,1318.3 640.1,1307.5 641.9,1317.3 643.8,1304.0 645.7,1315.0 647.9,1304.4 649.3,1301.2 651.6,1314.3 653.8,1298.6 655.8,1310.4 657.5,1297.8 659.3,1309.0 660.4,1292.2 661.5,1307.3 662.6,1295.5 664.5,1304.8 666.1,1292.5 667.7,1303.6 669.5,1288.9 671.1,1303.5 673.4,1287.9 674.9,1302.4 676.4,1287.4 677.9,1301.7 678.9,1287.4 680.8,1301.1 682.1,1284.8 684.3,1301.7 686.3,1287.1 688.6,1302.2 690.9,1283.0 693.0,1278.9 694.1,1298.7 695.5,1280.4 697.8,1297.0 699.8,1280.3 701.1,1299.3 702.2,1279.2 704.4,1301.2 705.8,1285.7 708.0,1299.0 709.9,1286.8 711.7,1298.2 712.8,1286.7 714.4,1294.7 716.5,1283.8 718.1,1293.5 719.6,1276.1 721.5,1290.4 722.9,1275.2 724.7,1278.3 726.0,1292.1 728.3,1271.7 729.8,1287.3 732.0,1277.8 733.1,1291.6 734.7,1276.8 736.8,1290.6 737.9,1277.5 739.5,1277.2 741.1,1279.1 743.4,1286.8 744.8,1275.7 746.8,1282.5 748.7,1269.0 749.8,1279.4 751.4,1266.6 753.2,1278.6 755.1,1264.5 757.4,1276.5 758.9,1267.0 760.3,1277.1 761.7,1267.1 763.8,1277.2 766.1,1268.2 768.0,1276.8 770.2,1278.9 771.8,1267.8 773.4,1268.1 774.4,1275.2 775.5,1267.7 777.6,1275.2 779.7,1267.2 780.8,1274.8 781.9,1264.5 783.3,1275.5 785.1,1265.6 786.9,1266.1 788.3,1273.1 789.4,1267.3 790.5,1273.1 791.7,1267.6 792.7,1273.0 794.8,1265.0 796.8,1269.0 798.0,1261.5 799.3,1269.9 800.3,1260.0 802.7,1265.7 803.8,1259.5 805.8,1264.1 806.9,1256.7 809.1,1265.3 810.7,1251.7 811.9,1262.6 814.1,1252.9 816.4,1263.1 818.7,1251.2 820.4,1252.0 822.0,1251.0 823.7,1260.0 826.0,1250.9 827.6,1260.3 829.8,1248.2 831.8,1244.8 833.6,1254.5 835.0,1246.6 837.0,1244.4 838.2,1256.6 840.4,1244.0 842.4,1253.9 844.0,1243.9 845.7,1244.2 847.6,1242.2 849.7,1255.5 850.8,1253.3 853.1,1237.8 855.0,1240.6 856.5,1250.5 857.9,1239.9 859.6,1238.2 860.7,1248.5 861.9,1232.0 863.7,1245.9 865.5,1235.0 866.7,1247.1 867.8,1230.9 868.9,1249.1 870.3,1231.0 871.9,1248.0 874.0,1229.8 876.2,1246.0 878.3,1228.8 880.2,1244.8 881.7,1223.8 884.0,1227.2 885.1,1228.3 886.8,1246.4 888.3,1224.1 889.6,1227.8 891.2,1244.9 892.3,1227.0 893.9,1239.6 895.8,1222.5 896.9,1241.8 898.1,1225.6 900.0,1236.9 901.3,1226.5 903.0,1237.6 904.8,1220.5 906.7,1237.7 908.9,1220.1 911.3,1233.5 913.4,1217.4 915.2,1230.0 916.6,1219.1 917.6,1231.9 918.9,1213.8 920.7,1230.0 922.0,1211.8 924.2,1225.1 926.1,1210.2 927.8,1207.1 930.1,1222.9 932.1,1204.4 933.4,1222.2 934.4,1206.0 935.9,1219.0 938.0,1202.4 940.2,1216.6 941.8,1200.6 943.4,1217.0 944.8,1193.1 946.7,1198.8 947.9,1212.3 950.2,1194.7 951.3,1210.2 952.5,1191.7 953.7,1189.9 954.9,1210.5 956.4,1193.7 958.7,1206.7 960.5,1190.4 962.4,1208.1 964.7,1189.7 967.0,1210.6 968.1,1191.3 969.5,1208.3 970.8,1190.9 972.7,1208.3 975.1,1182.8 976.2,1202.0 977.6,1199.5 980.0,1199.2 981.3,1179.7 983.4,1197.8 985.4,1176.4 987.4,1192.1 989.1,1176.3 990.7,1195.9 992.3,1171.8 994.2,1172.8 995.2,1191.2 996.4,1173.1 997.4,1191.2 999.7,1172.6 1001.2,1194.0 1003.1,1167.8 1005.3,1169.4 1006.9,1169.7 1008.9,1196.0 1010.0,1173.2 1012.2,1191.9 1014.1,1167.5 1016.1,1190.4 1017.1,1165.1 1019.4,1168.0 1021.5,1180.3 1023.1,1186.0 1024.9,1165.0 1027.0,1179.1 1028.9,1163.5 1030.0,1175.3 1032.3,1163.1 1034.4,1174.0 1035.9,1159.5 1037.0,1171.3 1039.0,1158.1 1040.2,1173.0 1041.8,1152.6 1043.9,1170.5 1045.8,1166.8 1047.8,1150.2 1049.6,1166.1 1051.8,1146.5 1054.0,1159.8 1055.4,1148.8 1057.7,1158.5 1059.5,1146.7 1061.4,1158.6 1063.5,1146.6 1065.8,1145.1 1068.1,1157.7 1069.3,1138.2 1070.6,1140.6 1072.6,1153.6 1074.3,1136.1 1076.1,1149.1 1077.8,1134.6 1079.1,1148.6 1080.2,1132.6 1081.8,1151.4 1083.6,1132.5 1085.1,1147.4 1086.7,1144.8 1088.9,1126.8 1090.9,1143.6 1092.5,1145.5 1094.2,1123.5 1095.3,1137.8 1096.7,1139.3 1098.8,1125.1 1101.0,1136.3 1103.0,1118.8 1105.2,1134.7 1107.3,1114.2 1108.5,1130.1 1110.1,1110.5 1112.2,1113.5 1113.4,1127.2 1115.5,1107.7 1117.5,1121.4 1119.2,1107.0 1121.5,1117.3 1123.2,1101.2 1124.7,1116.7 1126.3,1113.1 1128.0,1095.0 1130.4,1108.6 1131.6,1095.7 1133.7,1105.1 1135.7,1092.1 1137.0,1104.2 1138.5,1085.9 1140.7,1100.2 1142.2,1097.5 1143.8,1087.3 1146.0,1083.5 1148.4,1094.3 1149.4,1091.5 1151.8,1078.2 1153.6,1090.0 1155.3,1075.9 1156.6,1088.2 1158.9,1073.0 1160.2,1085.2 1162.2,1069.9 1164.3,1069.3 1166.1,1066.0 1168.0,1076.2 1170.2,1062.5 1171.9,1075.4 1173.4,1061.2 1175.5,1059.1 1177.8,1070.5 1179.5,1058.9 1181.1,1070.6 1182.8,1056.0 1184.9,1053.7 1186.6,1062.2 1187.7,1050.7 1189.9,1062.1 1191.1,1047.1 1193.1,1055.8 1195.1,1044.1 1196.5,1053.3 1197.5,1039.8 1199.3,1051.4 1200.3,1036.9 1201.5,1046.5 1203.5,1046.4 1205.8,1027.2 1207.7,1037.9 1209.7,1036.5 1210.9,1024.8 1213.1,1035.6 1215.3,1017.8 1216.4,1029.8 1218.1,1014.7 1219.5,1030.3 1221.8,1025.0 1224.1,1012.1 1226.2,1009.0 1227.5,1025.8 1228.7,1005.8 1230.3,1021.5 1231.3,1006.9 1233.0,1004.9 1234.7,1017.5 1236.0,994.9 1238.4,1018.3 1240.4,995.3 1242.7,1013.4 1244.6,991.1 1246.7,1007.1 1248.7,989.4 1250.5,1002.9 1252.6,982.7 1254.1,998.7 1256.1,981.4 1258.0,992.8 1260.1,978.2 1261.8,970.5 1263.6,981.6 1264.7,969.4 1266.5,977.3 1267.7,964.8 1270.0,974.8 1272.4,962.7 1273.7,973.0 1275.8,961.1 1277.8,971.9 1280.1,955.2 1281.2,965.9 1283.3,952.7 1285.1,965.1 1287.2,961.3 1288.6,947.9 1290.6,958.5 1292.0,942.4 1293.8,952.2 1295.8,936.9 1298.1,945.1 1299.7,932.0 1301.3,937.5 1303.3,933.4 1305.2,919.1 1307.2,923.8 1309.3,912.1 1311.3,913.4 1313.1,905.0 1315.3,908.3 1317.2,897.3 1318.4,904.9 1320.3,893.1 1322.4,890.2 1323.8,900.6 1325.0,884.9 1327.1,897.0 1329.0,882.8 1330.0,897.5 1332.2,880.5 1333.4,890.4 1335.3,877.9 1337.6,888.8 1339.6,869.2 1341.4,882.4 1343.6,863.2 1345.6,876.6 1347.6,857.0 1349.0,872.1 1351.4,850.2 1353.2,846.0 1355.6,859.4 1357.2,843.2 1359.3,841.5 1361.0,857.1 1363.1,854.0 1365.1,832.7 1366.5,847.6 1368.6,824.6 1369.9,839.1 1371.6,842.4 1373.1,820.7 1374.3,841.6 1376.1,819.2 1377.9,836.5 1379.8,818.0 1381.6,835.7 1383.1,837.5 1384.3,816.2 1385.5,839.3 1386.7,820.7 1388.6,835.1 1390.0,814.5 1391.6,836.2 1393.4,814.5 1395.7,817.9 1397.4,831.4 1399.6,819.8 1401.5,827.2 1403.8,811.2 1405.3,827.1 1407.3,806.1 1408.6,817.3 1410.7,799.1 1412.0,815.3 1413.4,793.5 1414.9,816.5 1416.1,800.0 1417.2,815.5 1418.5,798.5 1419.7,812.2 1421.3,811.8 1423.1,813.7 1424.8,797.6 1426.3,810.7 1427.5,795.8 1429.7,804.9 1431.8,789.5 1433.5,802.7 1435.0,798.8 1436.5,785.3 1438.7,794.9 1440.9,778.3 1442.5,791.2 1444.9,772.8 1446.5,789.7 1448.2,769.4 1450.2,780.1 1452.5,765.2 1454.8,779.7 1457.0,759.7 1459.0,770.7 1460.4,773.1 1462.5,753.0 1464.1,767.1 1465.3,752.3 1467.4,748.1 1468.8,756.3 1471.0,738.4 1473.3,747.7 1475.3,726.1 1477.3,736.7 1479.0,716.7 1479.2,719.6 1482.2,721.0 1481.7,724.2 1484.0,726.0 1482.7,728.7 1485.0,731.3 1482.6,734.0 1485.0,736.7 1482.8,739.3 1484.9,742.0 1482.8,744.7 1484.9,747.3 1484.0,750.0 1483.0,752.7 1485.9,755.0 1484.3,757.8 1486.2,760.2 1484.2,763.0 1486.5,765.3 1486.0,768.0 1486.8,771.2 1490.6,772.6 1491.0,776.0 1492.3,773.5 1491.0,770.3 1493.7,768.2 1492.8,765.1 1495.6,763.0 1495.0,760.0 1494.9,763.2 1497.7,765.7 1496.3,769.2 1498.0,772.0 1496.7,774.7 1499.2,777.1 1497.8,779.8 1499.4,782.2 1497.4,784.9 1500.3,787.3 1499.0,790.0 1498.4,792.7 1500.3,795.1 1499.2,797.8 1500.8,800.2 1499.8,802.9 1501.8,805.3 1501.0,808.0 1500.3,811.0 1502.8,813.5 1501.2,816.6 1504.1,819.1 1502.0,822.3 1503.4,825.0 1504.5,828.4 1507.0,831.0 1509.8,828.6 1510.5,825.0"/>
<path stroke="#39ae6d" d="M210.0,1347.7 212.1,1363.4 214.0,1358.9 215.2,1342.8 216.7,1362.1 218.3,1345.4 220.1,1364.5 222.4,1345.1 223.6,1362.2 225.5,1343.3 227.1,1362.8 228.7,1343.4 230.0,1360.6 232.0,1345.9 233.3,1360.1 234.9,1348.8 236.0,1361.3 238.4,1362.0 240.0,1343.5 241.7,1361.3 243.7,1349.8 245.3,1345.4 247.5,1348.1 248.5,1359.4 250.7,1347.7 252.4,1363.3 254.5,1346.9 256.8,1364.8 259.1,1348.0 260.4,1365.5 262.4,1350.0 263.5,1360.4 264.8,1343.5 265.9,1349.2 267.4,1362.8 268.4,1347.7 270.6,1359.4 272.0,1343.5 274.1,1330.0 275.9,1343.6 277.1,1358.6 278.6,1346.2 280.0,1348.4 281.9,1360.8 283.3,1346.2 285.1,1359.6 287.4,1335.5 289.6,1365.5 291.0,1348.0 292.6,1365.5 294.3,1348.2 295.7,1359.4 297.2,1343.7 299.5,1363.4 300.6,1350.0 301.8,1364.7 303.7,1365.5 304.8,1349.6 306.2,1365.5 308.3,1344.5 310.6,1357.9 312.1,1343.0 313.4,1362.8 315.6,1338.5 317.5,1338.5 319.2,1362.4 320.7,1349.0 322.2,1360.0 323.6,1342.6 325.7,1358.4 327.3,1347.6 328.6,1358.8 330.8,1348.8 332.9,1365.5 335.1,1342.1 337.4,1348.0 338.7,1359.2 340.9,1348.8 343.0,1361.8 344.6,1341.7 346.1,1346.8 347.8,1326.5 349.7,1326.5 350.9,1357.6 352.6,1344.6 354.9,1362.4 356.6,1341.2 358.1,1358.4 360.4,1341.1 362.7,1361.6 365.0,1344.7 366.1,1362.5 368.3,1357.5 369.6,1336.5 371.1,1336.5 373.3,1342.3 374.5,1361.2 375.7,1343.5 377.1,1359.7 378.4,1340.4 379.8,1343.7 381.9,1361.1 383.7,1340.2 385.0,1360.1 387.0,1345.6 389.3,1337.5 391.1,1337.5 392.4,1357.0 394.1,1344.7 396.1,1365.5 397.4,1341.8 399.2,1347.7 401.1,1344.1 402.4,1362.5 403.7,1345.2 405.7,1362.2 407.5,1348.0 409.1,1338.5 410.7,1338.5 412.8,1345.5 415.0,1359.6 416.6,1345.2 418.6,1343.4 419.7,1362.4 421.9,1335.5 422.9,1335.5 425.3,1346.8 427.7,1363.3 429.5,1340.0 431.7,1362.8 433.7,1342.9 434.8,1363.9 436.8,1361.9 439.1,1346.4 441.1,1347.2 442.5,1360.5 444.1,1340.3 446.3,1367.2 448.4,1360.8 449.7,1345.9 451.8,1367.3 453.3,1359.4 454.3,1362.6 456.6,1340.5 458.4,1363.5 460.4,1345.7 461.7,1360.5 463.4,1361.7 465.7,1340.0 466.9,1340.0 469.3,1360.3 471.1,1345.8 473.1,1345.9 475.1,1360.2 477.1,1361.6 478.4,1344.5 480.3,1362.2 481.6,1339.3 482.8,1360.8 484.2,1344.9 486.5,1363.0 488.8,1343.0 490.5,1366.3 492.3,1363.1 493.6,1347.4 495.0,1367.5 496.9,1344.9 498.3,1367.5 500.4,1345.8 502.5,1344.1 504.1,1367.5 505.7,1346.6 507.0,1363.2 508.3,1338.0 510.4,1361.2 511.8,1337.9 512.9,1361.3 515.0,1367.5 517.1,1344.5 519.3,1367.5 521.3,1340.7 522.5,1364.2 524.2,1336.5 525.8,1360.9 527.5,1341.1 529.5,1361.5 531.5,1360.5 533.4,1344.1 535.7,1365.6 537.9,1340.6 539.9,1363.7 541.5,1365.1 543.7,1343.4 546.0,1361.1 548.0,1359.8 549.1,1334.6 551.0,1365.6 552.7,1337.4 554.0,1364.9 555.6,1367.5 557.7,1334.6 559.6,1367.5 561.2,1340.5 563.1,1365.7 565.2,1338.3 566.8,1363.2 569.0,1334.8 570.7,1365.4 571.9,1359.0 574.1,1329.1 576.2,1361.7 578.2,1333.1 580.3,1359.9 582.4,1328.6 583.5,1357.1 584.9,1328.4 586.9,1363.7 588.0,1336.3 590.0,1361.6 591.4,1333.0 593.7,1363.0 595.4,1332.7 597.8,1359.9 599.2,1334.9 601.5,1364.7 603.0,1330.2 604.1,1335.5 605.8,1367.5 607.4,1333.4 608.9,1352.9 610.1,1333.1 612.3,1357.4 613.6,1336.8 615.2,1326.5 616.8,1364.2 617.9,1336.2 619.8,1334.7 621.1,1367.5 622.6,1327.7 624.4,1363.5 626.0,1333.6 627.7,1367.5 630.1,1332.6 631.7,1323.5 634.1,1360.5 636.2,1335.5 638.1,1367.5 639.3,1329.7 640.9,1359.6 642.9,1322.2 644.8,1367.1 646.0,1367.0 647.6,1328.3 649.3,1359.4 650.3,1329.6 652.0,1326.5 654.3,1361.8 655.5,1333.1 657.0,1366.0 658.4,1320.5 660.1,1320.3 662.1,1365.5 664.0,1326.8 665.2,1356.9 667.2,1328.6 669.1,1354.2 671.4,1327.2 673.3,1364.5 674.4,1332.0 676.4,1360.3 677.9,1321.1 679.0,1327.3 681.0,1360.4 682.8,1317.7 684.4,1358.5 686.2,1317.3 687.8,1352.4 689.9,1353.0 692.3,1326.3 693.8,1325.1 695.8,1357.8 698.0,1349.3 699.5,1319.9 701.8,1350.2 703.7,1321.2 705.1,1347.7 706.3,1316.0 707.4,1355.5 708.9,1316.6 710.4,1323.2 712.3,1324.5 714.1,1353.1 716.0,1321.0 717.9,1350.1 719.8,1311.0 722.1,1345.5 723.8,1310.3 724.9,1355.5 726.2,1316.1 727.5,1349.7 729.5,1314.6 730.9,1355.5 733.3,1309.9 735.3,1344.2 737.5,1307.9 739.1,1355.5 740.9,1341.8 742.7,1315.5 744.9,1357.5 746.3,1315.3 748.1,1320.4 750.0,1351.9 752.3,1314.9 754.3,1313.4 756.4,1342.7 758.5,1300.4 760.1,1336.7 762.1,1308.2 763.9,1333.6 765.4,1330.8 767.1,1298.2 769.5,1339.1 771.5,1307.4 773.2,1303.2 775.4,1332.3 776.8,1295.4 778.1,1339.5 780.3,1294.3 782.6,1335.8 784.8,1297.6 786.3,1329.0 788.5,1302.2 790.2,1339.8 792.6,1302.2 794.8,1328.2 796.9,1326.0 798.1,1290.1 799.5,1327.5 800.8,1289.5 802.3,1335.4 803.6,1289.0 805.3,1327.5 807.0,1329.7 808.8,1336.8 810.1,1287.7 812.5,1299.5 814.2,1295.8 815.9,1328.8 817.2,1289.6 818.5,1324.8 820.7,1316.2 822.7,1287.6 824.9,1311.4 826.0,1287.5 827.2,1310.3 829.3,1281.7 831.4,1308.6 832.7,1291.1 834.7,1307.9 835.8,1308.0 837.4,1285.0 838.8,1309.0 841.1,1283.4 842.2,1280.1 844.5,1309.9 846.2,1282.9 847.3,1314.7 849.7,1284.4 850.8,1308.6 852.4,1279.9 853.5,1316.3 855.5,1279.6 856.7,1311.6 858.0,1279.5 860.1,1307.0 861.5,1284.2 863.8,1316.5 865.3,1272.2 867.3,1275.5 868.3,1307.9 870.0,1271.9 871.0,1299.4 872.5,1301.2 873.9,1298.8 875.9,1275.8 877.6,1300.1 879.5,1304.1 880.6,1266.3 882.4,1266.0 883.7,1308.6 884.8,1303.1 886.8,1269.3 888.5,1265.1 889.7,1305.0 891.7,1300.9 893.3,1268.9 894.6,1309.1 896.8,1266.6 898.4,1308.0 899.8,1262.7 901.8,1300.9 904.1,1261.5 905.9,1296.6 907.9,1269.8 909.0,1260.1 910.2,1298.7 911.9,1296.1 913.8,1274.2 915.3,1299.9 916.6,1258.0 918.0,1301.1 919.1,1263.5 920.8,1300.1 922.7,1267.4 924.6,1269.3 926.0,1291.0 927.6,1288.6 928.9,1254.9 930.3,1301.2 932.0,1256.2 934.0,1264.7 936.0,1291.5 938.3,1265.6 939.3,1256.0 940.4,1262.1 942.5,1290.1 943.6,1249.3 945.9,1290.8 947.1,1255.0 948.5,1293.0 949.8,1290.3 951.5,1250.6 952.6,1288.6 953.7,1247.3 955.2,1292.8 956.5,1249.8 958.7,1244.5 960.3,1269.5 962.3,1238.3 964.1,1238.2 966.3,1270.4 967.4,1263.2 968.5,1237.4 970.4,1259.7 972.7,1238.2 974.1,1265.1 975.6,1240.9 977.4,1268.7 979.1,1235.7 981.2,1259.5 982.3,1244.3 983.5,1259.2 984.9,1241.0 986.3,1264.1 987.8,1243.7 989.6,1260.6 991.7,1237.6 993.0,1263.0 995.3,1227.6 997.5,1234.7 999.0,1253.1 1001.3,1227.3 1003.5,1260.6 1004.6,1224.2 1006.3,1257.6 1007.8,1226.0 1010.0,1250.3 1012.2,1223.6 1013.2,1212.8 1015.6,1257.9 1017.9,1250.9 1020.0,1256.1 1021.9,1223.9 1023.6,1258.4 1025.1,1214.9 1026.5,1257.7 1028.6,1214.0 1029.8,1245.3 1030.9,1203.3 1032.6,1249.2 1033.8,1217.7 1035.4,1247.1 1037.1,1216.2 1039.4,1240.8 1041.5,1196.5 1043.2,1244.2 1045.2,1201.0 1046.3,1229.6 1047.8,1196.2 1049.1,1227.7 1050.8,1193.3 1053.0,1225.6 1055.4,1196.4 1057.5,1229.8 1059.3,1232.2 1060.4,1186.6 1062.1,1231.8 1064.1,1224.3 1065.9,1185.0 1067.6,1220.8 1069.7,1178.3 1071.5,1218.2 1072.9,1187.3 1074.5,1213.3 1076.2,1182.2 1077.3,1229.1 1079.0,1173.9 1080.6,1180.8 1082.8,1224.5 1083.9,1176.4 1085.8,1222.7 1088.0,1178.5 1089.3,1175.3 1090.4,1226.1 1092.1,1179.6 1093.6,1221.4 1094.9,1179.6 1096.7,1220.4 1098.9,1178.1 1101.0,1201.9 1103.0,1159.5 1104.9,1210.9 1107.1,1203.1 1109.3,1204.3 1111.3,1153.5 1112.7,1195.2 1114.2,1159.4 1115.5,1198.6 1117.2,1156.2 1119.1,1187.5 1120.1,1161.7 1122.1,1194.2 1123.7,1145.0 1125.3,1151.2 1126.9,1184.2 1128.8,1152.7 1130.6,1172.4 1131.9,1140.9 1133.3,1143.2 1135.3,1166.2 1137.3,1138.0 1139.4,1146.2 1141.6,1161.7 1143.0,1133.9 1144.8,1161.2 1146.3,1162.2 1148.0,1139.4 1149.3,1160.0 1150.5,1128.8 1151.6,1154.2 1154.0,1131.7 1155.2,1155.5 1157.0,1127.6 1159.1,1143.4 1161.5,1146.4 1163.5,1119.0 1165.6,1148.6 1167.0,1124.9 1168.6,1141.4 1170.4,1116.9 1171.5,1144.9 1173.2,1114.5 1175.3,1137.7 1176.8,1110.2 1178.2,1131.4 1179.6,1108.9 1181.0,1133.0 1183.3,1129.4 1184.6,1106.8 1186.4,1107.4 1188.1,1129.0 1190.1,1107.0 1191.2,1130.1 1193.5,1107.1 1195.1,1122.3 1197.3,1106.9 1198.6,1124.5 1200.1,1102.1 1202.2,1121.6 1204.5,1091.1 1206.3,1123.5 1207.5,1095.1 1209.6,1115.8 1211.4,1082.9 1212.7,1115.4 1214.0,1089.9 1215.1,1110.8 1216.4,1076.5 1217.9,1114.2 1219.9,1074.9 1221.6,1100.3 1223.3,1072.6 1225.6,1108.2 1227.2,1063.8 1229.3,1094.8 1230.8,1067.0 1233.2,1096.0 1235.1,1061.0 1237.5,1090.8 1239.6,1046.7 1240.8,1056.9 1242.1,1094.9 1243.4,1046.7 1244.4,1076.0 1246.6,1049.6 1248.3,1084.7 1250.5,1041.4 1251.8,1033.3 1253.7,1082.6 1256.0,1074.8 1257.6,1072.9 1259.2,1026.8 1260.8,1032.7 1262.9,1070.6 1264.1,1022.3 1265.6,1051.3 1268.0,1021.2 1270.1,1055.1 1272.3,1050.6 1273.9,1048.0 1275.0,1015.1 1277.4,1042.3 1278.8,1012.8 1280.9,1018.3 1282.5,1043.2 1284.4,1015.1 1285.7,1020.9 1288.0,1049.8 1290.1,1017.2 1291.3,1041.2 1293.4,1011.1 1295.4,1033.1 1297.4,1007.1 1298.6,1022.9 1300.6,991.8 1302.8,993.5 1304.7,1010.8 1305.9,983.7 1307.7,1010.2 1309.5,983.2 1311.7,970.6 1312.8,997.6 1313.8,967.2 1316.1,988.9 1318.2,966.8 1320.3,978.1 1321.8,951.4 1323.3,979.3 1324.3,944.5 1326.1,973.1 1328.4,937.7 1330.6,966.2 1332.4,936.6 1334.1,964.3 1335.4,930.7 1336.7,967.3 1338.0,936.6 1340.2,941.2 1342.5,957.8 1344.8,936.8 1347.0,958.0 1348.1,923.1 1350.0,928.4 1351.8,951.0 1354.0,924.5 1355.9,950.4 1357.5,916.1 1358.8,950.5 1360.2,912.2 1362.5,947.3 1364.4,910.1 1366.4,908.9 1367.5,938.3 1369.3,930.9 1371.0,899.4 1373.3,934.6 1375.1,903.8 1377.3,925.5 1378.3,898.4 1380.0,926.2 1382.1,894.7 1383.1,921.2 1385.2,877.8 1387.1,906.1 1389.2,875.5 1390.9,909.4 1392.1,872.4 1393.1,901.9 1394.8,876.1 1397.0,893.9 1398.6,894.8 1399.6,866.2 1401.7,897.8 1403.8,865.3 1404.8,884.9 1406.5,865.5 1408.7,890.5 1409.9,859.7 1411.4,887.6 1413.6,848.2 1414.8,874.9 1416.3,848.8 1417.9,869.0 1418.9,836.1 1420.2,835.8 1421.5,852.0 1422.7,827.1 1424.3,846.0 1425.8,822.7 1428.1,843.9 1430.0,808.2 1432.0,807.1 1433.1,841.6 1435.3,802.3 1437.3,829.3 1438.7,800.8 1440.9,820.9 1442.8,820.5 1444.6,780.7 1446.6,805.1 1448.8,774.2 1450.7,771.2 1452.1,800.3 1454.3,788.3 1455.6,759.2 1457.1,748.9 1459.1,779.2 1460.6,755.5 1462.4,748.3 1463.7,768.5 1465.2,768.0 1467.4,739.4 1468.7,732.5 1470.2,764.1 1472.4,730.6 1474.5,760.2 1476.3,723.3 1478.1,755.6 1479.3,714.4 1480.7,742.9 1482.8,707.2 1484.9,734.4 1487.2,692.2 1490.6,690.6 1486.0,686.3 1492.5,685.8 1487.9,681.5 1493.7,680.7 1490.6,676.9 1493.0,675.0 1497.0,677.0 1496.9,680.1 1502.1,680.3 1501.0,684.0 1499.8,687.5 1504.4,688.8 1504.0,692.0 1501.3,695.1 1507.0,696.9 1503.6,700.1 1507.5,702.1 1506.0,705.0 1505.0,707.8 1508.8,709.9 1504.9,713.2 1509.4,715.1 1508.0,718.0 1506.3,720.9 1509.9,723.5 1507.2,726.5 1510.3,729.1 1509.0,732.0 1506.2,734.8 1512.0,737.0 1506.5,740.0 1511.9,742.2 1510.0,745.0 1507.9,747.8 1512.5,750.0 1509.1,752.9 1513.5,755.2 1511.0,758.0 1508.4,761.1 1513.2,763.5 1509.0,766.7 1515.2,769.1 1509.8,772.4 1512.5,775.0"/>
<path stroke="#af78df" d="M210.0,1362.2 212.1,1356.4 214.0,1359.1 215.2,1362.8 216.7,1357.7 218.3,1363.1 220.1,1357.1 222.4,1363.0 223.6,1356.8 225.5,1362.5 227.1,1357.4 228.7,1357.0 230.0,1363.8 232.0,1357.4 233.3,1363.4 234.9,1355.5 236.0,1363.0 238.4,1363.4 240.0,1362.8 241.7,1363.0 243.7,1358.5 245.3,1362.6 247.5,1357.1 248.5,1361.7 250.7,1356.1 252.4,1363.6 254.5,1355.7 256.8,1362.2 259.1,1356.8 260.4,1361.8 262.4,1357.6 263.5,1363.1 264.8,1356.5 265.9,1362.1 267.4,1355.9 268.4,1363.1 270.6,1356.4 272.0,1364.7 274.1,1362.1 275.9,1356.6 277.1,1361.9 278.6,1355.9 280.0,1363.9 281.9,1357.7 283.3,1363.1 285.1,1364.8 287.4,1355.6 289.6,1356.8 291.0,1355.2 292.6,1362.0 294.3,1354.9 295.7,1355.3 297.2,1362.0 299.5,1356.6 300.6,1356.3 301.8,1362.9 303.7,1356.4 304.8,1355.0 306.2,1363.5 308.3,1356.9 310.6,1362.9 312.1,1354.1 313.4,1362.4 315.6,1354.8 317.5,1361.9 319.2,1362.3 320.7,1354.4 322.2,1363.3 323.6,1353.2 325.7,1361.9 327.3,1355.2 328.6,1355.2 330.8,1363.2 332.9,1356.2 335.1,1363.6 337.4,1352.6 338.7,1363.0 340.9,1361.1 343.0,1353.3 344.6,1360.8 346.1,1361.4 347.8,1353.9 349.7,1362.9 350.9,1362.3 352.6,1351.9 354.9,1353.7 356.6,1360.8 358.1,1360.8 360.4,1351.9 362.7,1362.1 365.0,1351.4 366.1,1360.7 368.3,1351.9 369.6,1363.3 371.1,1350.6 373.3,1361.1 374.5,1351.1 375.7,1360.2 377.1,1352.0 378.4,1362.6 379.8,1354.7 381.9,1361.8 383.7,1362.3 385.0,1353.7 387.0,1363.5 389.3,1351.2 391.1,1360.6 392.4,1350.3 394.1,1359.6 396.1,1348.7 397.4,1360.0 399.2,1348.8 401.1,1361.7 402.4,1350.8 403.7,1363.3 405.7,1349.5 407.5,1359.2 409.1,1348.8 410.7,1363.0 412.8,1350.6 415.0,1361.0 416.6,1345.3 418.6,1348.9 419.7,1360.5 421.9,1346.0 422.9,1357.7 425.3,1346.0 427.7,1357.1 429.5,1347.0 431.7,1358.7 433.7,1346.2 434.8,1355.7 436.8,1344.6 439.1,1360.9 441.1,1344.8 442.5,1359.0 444.1,1360.7 446.3,1338.1 448.4,1357.7 449.7,1343.8 451.8,1354.7 453.3,1341.1 454.3,1355.1 456.6,1340.2 458.4,1357.5 460.4,1339.2 461.7,1357.0 463.4,1338.9 465.7,1359.5 466.9,1342.1 469.3,1358.5 471.1,1341.6 473.1,1357.3 475.1,1338.9 477.1,1339.8 478.4,1356.3 480.3,1343.0 481.6,1356.2 482.8,1343.3 484.2,1357.3 486.5,1341.3 488.8,1352.0 490.5,1340.0 492.3,1357.2 493.6,1342.2 495.0,1356.2 496.9,1341.2 498.3,1352.3 500.4,1339.5 502.5,1356.1 504.1,1339.3 505.7,1355.5 507.0,1332.7 508.3,1351.1 510.4,1335.4 511.8,1352.9 512.9,1334.7 515.0,1352.0 517.1,1330.5 519.3,1348.8 521.3,1330.0 522.5,1344.5 524.2,1332.4 525.8,1329.0 527.5,1343.3 529.5,1330.1 531.5,1348.2 533.4,1346.4 535.7,1345.7 537.9,1332.0 539.9,1345.1 541.5,1329.4 543.7,1343.3 546.0,1329.0 548.0,1344.3 549.1,1325.5 551.0,1343.6 552.7,1329.2 554.0,1330.0 555.6,1345.8 557.7,1332.0 559.6,1329.9 561.2,1346.0 563.1,1346.2 565.2,1331.5 566.8,1343.1 569.0,1331.4 570.7,1329.4 571.9,1326.5 574.1,1345.8 576.2,1331.4 578.2,1343.0 580.3,1343.3 582.4,1327.4 583.5,1345.0 584.9,1326.3 586.9,1326.1 588.0,1341.7 590.0,1328.3 591.4,1326.2 593.7,1341.1 595.4,1325.9 597.8,1338.0 599.2,1323.5 601.5,1335.1 603.0,1339.0 604.1,1336.0 605.8,1323.3 607.4,1335.4 608.9,1323.5 610.1,1337.1 612.3,1322.3 613.6,1341.1 615.2,1321.6 616.8,1334.1 617.9,1316.7 619.8,1339.6 621.1,1320.6 622.6,1320.5 624.4,1335.8 626.0,1319.8 627.7,1330.6 630.1,1318.2 631.7,1331.5 634.1,1315.9 636.2,1328.8 638.1,1313.1 639.3,1327.1 640.9,1311.1 642.9,1325.6 644.8,1316.6 646.0,1325.5 647.6,1317.0 649.3,1316.4 650.3,1328.5 652.0,1316.8 654.3,1326.6 655.5,1315.7 657.0,1326.3 658.4,1318.1 660.1,1327.4 662.1,1316.3 664.0,1317.0 665.2,1328.5 667.2,1318.0 669.1,1316.8 671.4,1325.2 673.3,1314.1 674.4,1327.6 676.4,1314.9 677.9,1326.1 679.0,1316.1 681.0,1325.5 682.8,1311.1 684.4,1311.4 686.2,1328.4 687.8,1309.2 689.9,1325.8 692.3,1323.2 693.8,1308.6 695.8,1312.6 698.0,1323.1 699.5,1312.4 701.8,1321.7 703.7,1307.4 705.1,1320.1 706.3,1323.1 707.4,1310.6 708.9,1309.8 710.4,1320.4 712.3,1304.4 714.1,1318.8 716.0,1307.5 717.9,1320.4 719.8,1322.2 722.1,1306.5 723.8,1321.3 724.9,1301.7 726.2,1320.6 727.5,1305.0 729.5,1318.9 730.9,1298.1 733.3,1319.1 735.3,1297.3 737.5,1311.1 739.1,1294.7 740.9,1307.8 742.7,1291.3 744.9,1308.0 746.3,1292.9 748.1,1304.8 750.0,1293.7 752.3,1306.4 754.3,1306.1 756.4,1289.1 758.5,1301.5 760.1,1282.8 762.1,1298.7 763.9,1280.7 765.4,1301.4 767.1,1286.1 769.5,1301.9 771.5,1281.4 773.2,1297.3 775.4,1282.4 776.8,1303.2 778.1,1283.7 780.3,1296.1 782.6,1279.8 784.8,1294.0 786.3,1278.5 788.5,1297.6 790.2,1280.8 792.6,1290.4 794.8,1279.3 796.9,1287.3 798.1,1275.8 799.5,1286.0 800.8,1271.8 802.3,1289.1 803.6,1275.1 805.3,1284.7 807.0,1284.3 808.8,1271.2 810.1,1282.4 812.5,1268.1 814.2,1279.0 815.9,1267.6 817.2,1278.2 818.5,1263.4 820.7,1279.7 822.7,1263.4 824.9,1277.6 826.0,1259.8 827.2,1278.0 829.3,1259.6 831.4,1274.6 832.7,1259.7 834.7,1278.1 835.8,1258.3 837.4,1275.9 838.8,1255.4 841.1,1253.5 842.2,1275.0 844.5,1257.4 846.2,1277.4 847.3,1256.1 849.7,1270.3 850.8,1254.4 852.4,1275.7 853.5,1271.6 855.5,1272.6 856.7,1252.7 858.0,1273.4 860.1,1253.1 861.5,1273.6 863.8,1255.1 865.3,1278.2 867.3,1274.7 868.3,1265.6 870.0,1276.4 871.0,1264.0 872.5,1277.8 873.9,1268.4 875.9,1281.3 877.6,1268.0 879.5,1281.4 880.6,1268.5 882.4,1283.6 883.7,1270.4 884.8,1286.3 886.8,1268.2 888.5,1279.8 889.7,1283.8 891.7,1265.5 893.3,1278.8 894.6,1265.4 896.8,1281.1 898.4,1262.7 899.8,1278.2 901.8,1265.8 904.1,1280.1 905.9,1264.7 907.9,1277.7 909.0,1281.8 910.2,1261.6 911.9,1278.2 913.8,1263.5 915.3,1279.9 916.6,1277.1 918.0,1265.9 919.1,1262.8 920.8,1282.0 922.7,1260.0 924.6,1280.4 926.0,1277.3 927.6,1258.7 928.9,1275.4 930.3,1261.6 932.0,1275.8 934.0,1257.0 936.0,1257.7 938.3,1275.4 939.3,1255.5 940.4,1271.2 942.5,1258.8 943.6,1271.1 945.9,1257.4 947.1,1272.2 948.5,1256.6 949.8,1270.8 951.5,1272.5 952.6,1272.5 953.7,1256.3 955.2,1272.3 956.5,1254.5 958.7,1273.2 960.3,1254.4 962.3,1272.1 964.1,1254.8 966.3,1271.0 967.4,1249.8 968.5,1269.9 970.4,1249.2 972.7,1264.1 974.1,1249.6 975.6,1267.3 977.4,1246.7 979.1,1261.4 981.2,1250.1 982.3,1262.5 983.5,1244.1 984.9,1263.3 986.3,1245.7 987.8,1247.5 989.6,1245.2 991.7,1259.8 993.0,1247.4 995.3,1259.3 997.5,1246.6 999.0,1256.4 1001.3,1242.0 1003.5,1257.2 1004.6,1242.3 1006.3,1257.5 1007.8,1242.0 1010.0,1252.4 1012.2,1255.6 1013.2,1238.7 1015.6,1251.1 1017.9,1238.4 1020.0,1253.5 1021.9,1234.5 1023.6,1249.2 1025.1,1231.2 1026.5,1245.1 1028.6,1233.7 1029.8,1243.9 1030.9,1227.7 1032.6,1243.9 1033.8,1229.6 1035.4,1241.4 1037.1,1224.2 1039.4,1238.7 1041.5,1220.7 1043.2,1234.6 1045.2,1219.5 1046.3,1223.0 1047.8,1233.5 1049.1,1218.6 1050.8,1235.3 1053.0,1220.6 1055.4,1232.5 1057.5,1217.1 1059.3,1230.6 1060.4,1213.4 1062.1,1227.4 1064.1,1216.2 1065.9,1229.9 1067.6,1214.3 1069.7,1215.2 1071.5,1231.0 1072.9,1230.1 1074.5,1210.5 1076.2,1207.0 1077.3,1224.9 1079.0,1206.4 1080.6,1219.5 1082.8,1203.8 1083.9,1222.9 1085.8,1204.6 1088.0,1218.5 1089.3,1204.6 1090.4,1216.5 1092.1,1202.0 1093.6,1211.5 1094.9,1213.5 1096.7,1197.4 1098.9,1212.9 1101.0,1195.3 1103.0,1209.2 1104.9,1195.0 1107.1,1208.2 1109.3,1195.8 1111.3,1202.4 1112.7,1192.8 1114.2,1190.4 1115.5,1201.5 1117.2,1192.1 1119.1,1201.7 1120.1,1189.3 1122.1,1196.4 1123.7,1185.7 1125.3,1198.7 1126.9,1181.3 1128.8,1192.5 1130.6,1182.9 1131.9,1191.0 1133.3,1181.8 1135.3,1179.4 1137.3,1187.5 1139.4,1188.3 1141.6,1175.5 1143.0,1187.1 1144.8,1170.8 1146.3,1182.9 1148.0,1171.7 1149.3,1178.6 1150.5,1167.5 1151.6,1178.3 1154.0,1166.3 1155.2,1174.0 1157.0,1163.3 1159.1,1173.6 1161.5,1159.4 1163.5,1171.2 1165.6,1156.9 1167.0,1167.1 1168.6,1156.1 1170.4,1165.2 1171.5,1153.6 1173.2,1162.4 1175.3,1146.8 1176.8,1161.2 1178.2,1148.1 1179.6,1159.8 1181.0,1144.8 1183.3,1155.1 1184.6,1141.7 1186.4,1149.5 1188.1,1141.0 1190.1,1144.7 1191.2,1138.2 1193.5,1145.6 1195.1,1135.7 1197.3,1135.1 1198.6,1148.3 1200.1,1137.6 1202.2,1145.4 1204.5,1143.0 1206.3,1133.4 1207.5,1144.0 1209.6,1131.5 1211.4,1139.9 1212.7,1130.8 1214.0,1140.7 1215.1,1127.5 1216.4,1140.8 1217.9,1125.3 1219.9,1133.7 1221.6,1120.6 1223.3,1120.7 1225.6,1129.7 1227.2,1118.5 1229.3,1130.6 1230.8,1116.5 1233.2,1124.6 1235.1,1109.5 1237.5,1120.1 1239.6,1110.3 1240.8,1118.8 1242.1,1105.8 1243.4,1106.2 1244.4,1115.0 1246.6,1104.3 1248.3,1110.8 1250.5,1097.8 1251.8,1109.0 1253.7,1095.5 1256.0,1104.4 1257.6,1092.7 1259.2,1104.3 1260.8,1101.1 1262.9,1090.2 1264.1,1099.9 1265.6,1084.4 1268.0,1096.6 1270.1,1081.6 1272.3,1089.3 1273.9,1078.2 1275.0,1086.8 1277.4,1072.6 1278.8,1081.4 1280.9,1065.3 1282.5,1079.7 1284.4,1064.3 1285.7,1062.1 1288.0,1073.6 1290.1,1058.8 1291.3,1058.3 1293.4,1067.4 1295.4,1055.8 1297.4,1065.6 1298.6,1053.8 1300.6,1050.9 1302.8,1062.2 1304.7,1048.6 1305.9,1065.2 1307.7,1062.1 1309.5,1045.2 1311.7,1062.1 1312.8,1048.1 1313.8,1043.2 1316.1,1059.3 1318.2,1043.8 1320.3,1056.9 1321.8,1044.5 1323.3,1053.9 1324.3,1053.1 1326.1,1037.0 1328.4,1048.4 1330.6,1036.1 1332.4,1042.9 1334.1,1044.0 1335.4,1031.7 1336.7,1040.6 1338.0,1026.0 1340.2,1024.2 1342.5,1034.4 1344.8,1032.1 1347.0,1021.2 1348.1,1028.6 1350.0,1014.9 1351.8,1022.8 1354.0,1010.3 1355.9,1017.8 1357.5,1008.4 1358.8,1016.2 1360.2,1002.6 1362.5,1012.1 1364.4,996.3 1366.4,996.1 1367.5,1008.0 1369.3,1003.5 1371.0,994.3 1373.3,1001.9 1375.1,985.3 1377.3,987.4 1378.3,997.9 1380.0,984.5 1382.1,993.0 1383.1,980.4 1385.2,991.3 1387.1,987.5 1389.2,977.7 1390.9,986.4 1392.1,974.7 1393.1,982.9 1394.8,973.6 1397.0,980.9 1398.6,968.9 1399.6,981.0 1401.7,969.6 1403.8,978.1 1404.8,968.8 1406.5,974.2 1408.7,966.2 1409.9,975.5 1411.4,964.7 1413.6,970.8 1414.8,963.7 1416.3,969.0 1417.9,969.6 1418.9,962.0 1420.2,970.2 1421.5,960.7 1422.7,968.4 1424.3,957.5 1425.8,965.8 1428.1,950.0 1430.0,963.6 1432.0,945.1 1433.1,962.0 1435.3,946.6 1437.3,959.9 1438.7,939.2 1440.9,953.7 1442.8,938.2 1444.6,954.4 1446.6,937.6 1448.8,948.6 1450.7,936.2 1452.1,946.9 1454.3,933.5 1455.6,943.2 1457.1,931.9 1459.1,941.9 1460.6,931.7 1462.4,936.7 1463.7,926.9 1465.2,933.1 1467.4,922.0 1468.7,926.7 1470.2,917.1 1472.4,922.0 1474.5,917.9 1476.3,906.2 1478.1,916.2 1479.3,902.9 1480.7,909.8 1482.8,896.9 1484.9,906.9 1487.2,886.6 1489.4,895.7 1491.3,880.9 1493.1,890.9 1494.2,887.2 1496.4,870.0 1498.4,878.8 1499.9,863.7 1501.3,870.5 1502.8,856.7 1504.5,859.6 1506.6,845.6 1508.2,851.0 1509.4,840.3 1511.8,838.4 1511.9,834.8 1514.5,833.0 1513.5,835.9 1515.9,838.6 1514.4,841.5 1516.0,844.3 1514.6,847.2 1515.5,850.0 1514.5,852.5 1516.5,855.0 1514.9,857.5 1516.9,860.0 1514.9,862.5 1517.0,865.0 1515.0,867.6 1517.4,870.0 1515.3,872.6 1517.6,875.0 1516.0,877.5 1517.8,880.0 1516.2,882.5 1517.0,885.0 1516.5,887.7 1518.2,890.2 1516.5,893.0 1519.0,895.5 1517.1,898.3 1519.0,900.8 1517.8,903.6 1520.0,906.0 1517.8,908.9 1520.2,911.3 1518.6,914.1 1520.2,916.7 1518.9,919.4 1520.0,922.0 1519.6,924.6 1521.4,927.0 1520.1,929.7 1521.8,932.1 1520.5,934.8 1522.3,937.2 1520.7,940.0 1522.7,942.4 1522.0,945.0 1521.7,947.5 1523.0,950.0 1521.6,952.6 1523.8,954.9 1521.9,957.6 1524.2,959.9 1522.4,962.6 1523.5,965.0 1522.7,967.9 1524.4,970.6 1522.7,973.5 1525.2,976.1 1524.3,979.0"/>
</g>
<g fill="#000">
<rect x="201" y="41" width="1645" height="9"/>
<rect x="201" y="1362.8" width="1645" height="8.2"/>
<rect x="201" y="41" width="9.7" height="1330"/>
<rect x="1837" y="41" width="9" height="1330"/>
<rect x="435.10" y="1341" width="9" height="22"/>
<rect x="668.75" y="1341" width="9" height="22"/>
<rect x="902.40" y="1341" width="9" height="22"/>
<rect x="1136.05" y="1341" width="9" height="22"/>
<rect x="1369.70" y="1341" width="9" height="22"/>
<rect x="1603.35" y="1341" width="9" height="22"/>
<rect x="318.27" y="1354" width="9" height="9"/>
<rect x="551.92" y="1354" width="9" height="9"/>
<rect x="785.58" y="1354" width="9" height="9"/>
<rect x="1019.22" y="1354" width="9" height="9"/>
<rect x="1252.88" y="1354" width="9" height="9"/>
<rect x="1486.52" y="1354" width="9" height="9"/>
<rect x="1720.17" y="1354" width="9" height="9"/>
<rect x="210" y="1142.35" width="21.2" height="8.5"/>
<rect x="210" y="922.05" width="21.2" height="8.5"/>
<rect x="210" y="701.75" width="21.2" height="8.5"/>
<rect x="210" y="481.45" width="21.2" height="8.5"/>
<rect x="210" y="261.15" width="21.2" height="8.5"/>
<rect x="210" y="1252.50" width="8.2" height="8.5"/>
<rect x="210" y="1032.20" width="8.2" height="8.5"/>
<rect x="210" y="811.90" width="8.2" height="8.5"/>
<rect x="210" y="591.60" width="8.2" height="8.5"/>
<rect x="210" y="371.30" width="8.2" height="8.5"/>
<rect x="210" y="151.00" width="8.2" height="8.5"/>
</g>
<g font-size="89" fill="#000">
<text x="205.95" y="1462" text-anchor="middle">0</text>
<text x="439.60" y="1462" text-anchor="middle">10</text>
<text x="673.25" y="1462" text-anchor="middle">20</text>
<text x="906.90" y="1462" text-anchor="middle">30</text>
<text x="1140.55" y="1462" text-anchor="middle">40</text>
<text x="1374.20" y="1462" text-anchor="middle">50</text>
<text x="1607.85" y="1462" text-anchor="middle">60</text>
<text x="1841.50" y="1462" text-anchor="middle">70</text>
<text x="155.6" y="1392.60" text-anchor="middle">0</text>
<text x="155.6" y="1172.30" text-anchor="middle">1</text>
<text x="155.6" y="952.00" text-anchor="middle">2</text>
<text x="155.6" y="731.70" text-anchor="middle">3</text>
<text x="155.6" y="511.40" text-anchor="middle">4</text>
<text x="155.6" y="291.10" text-anchor="middle">5</text>
<text x="155.6" y="70.80" text-anchor="middle">6</text>
</g>
<text x="495.3" y="1624" font-size="112">Compressive strain (%)</text>
<text transform="translate(95.3,1273.6) rotate(-90)" x="0" y="0" font-size="112">Compressive stress (kPa)</text>
<g font-size="68.7" style="font-kerning:none">
<line x1="258.4" y1="663.45" x2="411" y2="663.45" stroke="#515151" stroke-width="9" stroke-linecap="round"/>
<text x="427.1" y="686.9">PAA</text>
<line x1="258.4" y1="747.95" x2="411" y2="747.95" stroke="#f03f40" stroke-width="9" stroke-linecap="round"/>
<text x="427.1" y="771.4">PCC(2 wt%)/PAA</text>
<line x1="258.4" y1="832.45" x2="411" y2="832.45" stroke="#1a71e0" stroke-width="9" stroke-linecap="round"/>
<text x="427.1" y="855.9">PCC(4 wt%)/PAA</text>
<line x1="258.4" y1="916.95" x2="411" y2="916.95" stroke="#39ae6d" stroke-width="9" stroke-linecap="round"/>
<text x="427.1" y="940.4">PCC(6 wt%)/PAA</text>
<line x1="258.4" y1="1001.45" x2="411" y2="1001.45" stroke="#af78df" stroke-width="9" stroke-linecap="round"/>
<text x="427.1" y="1024.9">PCC(8 wt%)/PAA</text>
</g>
</svg>
</body></html>
